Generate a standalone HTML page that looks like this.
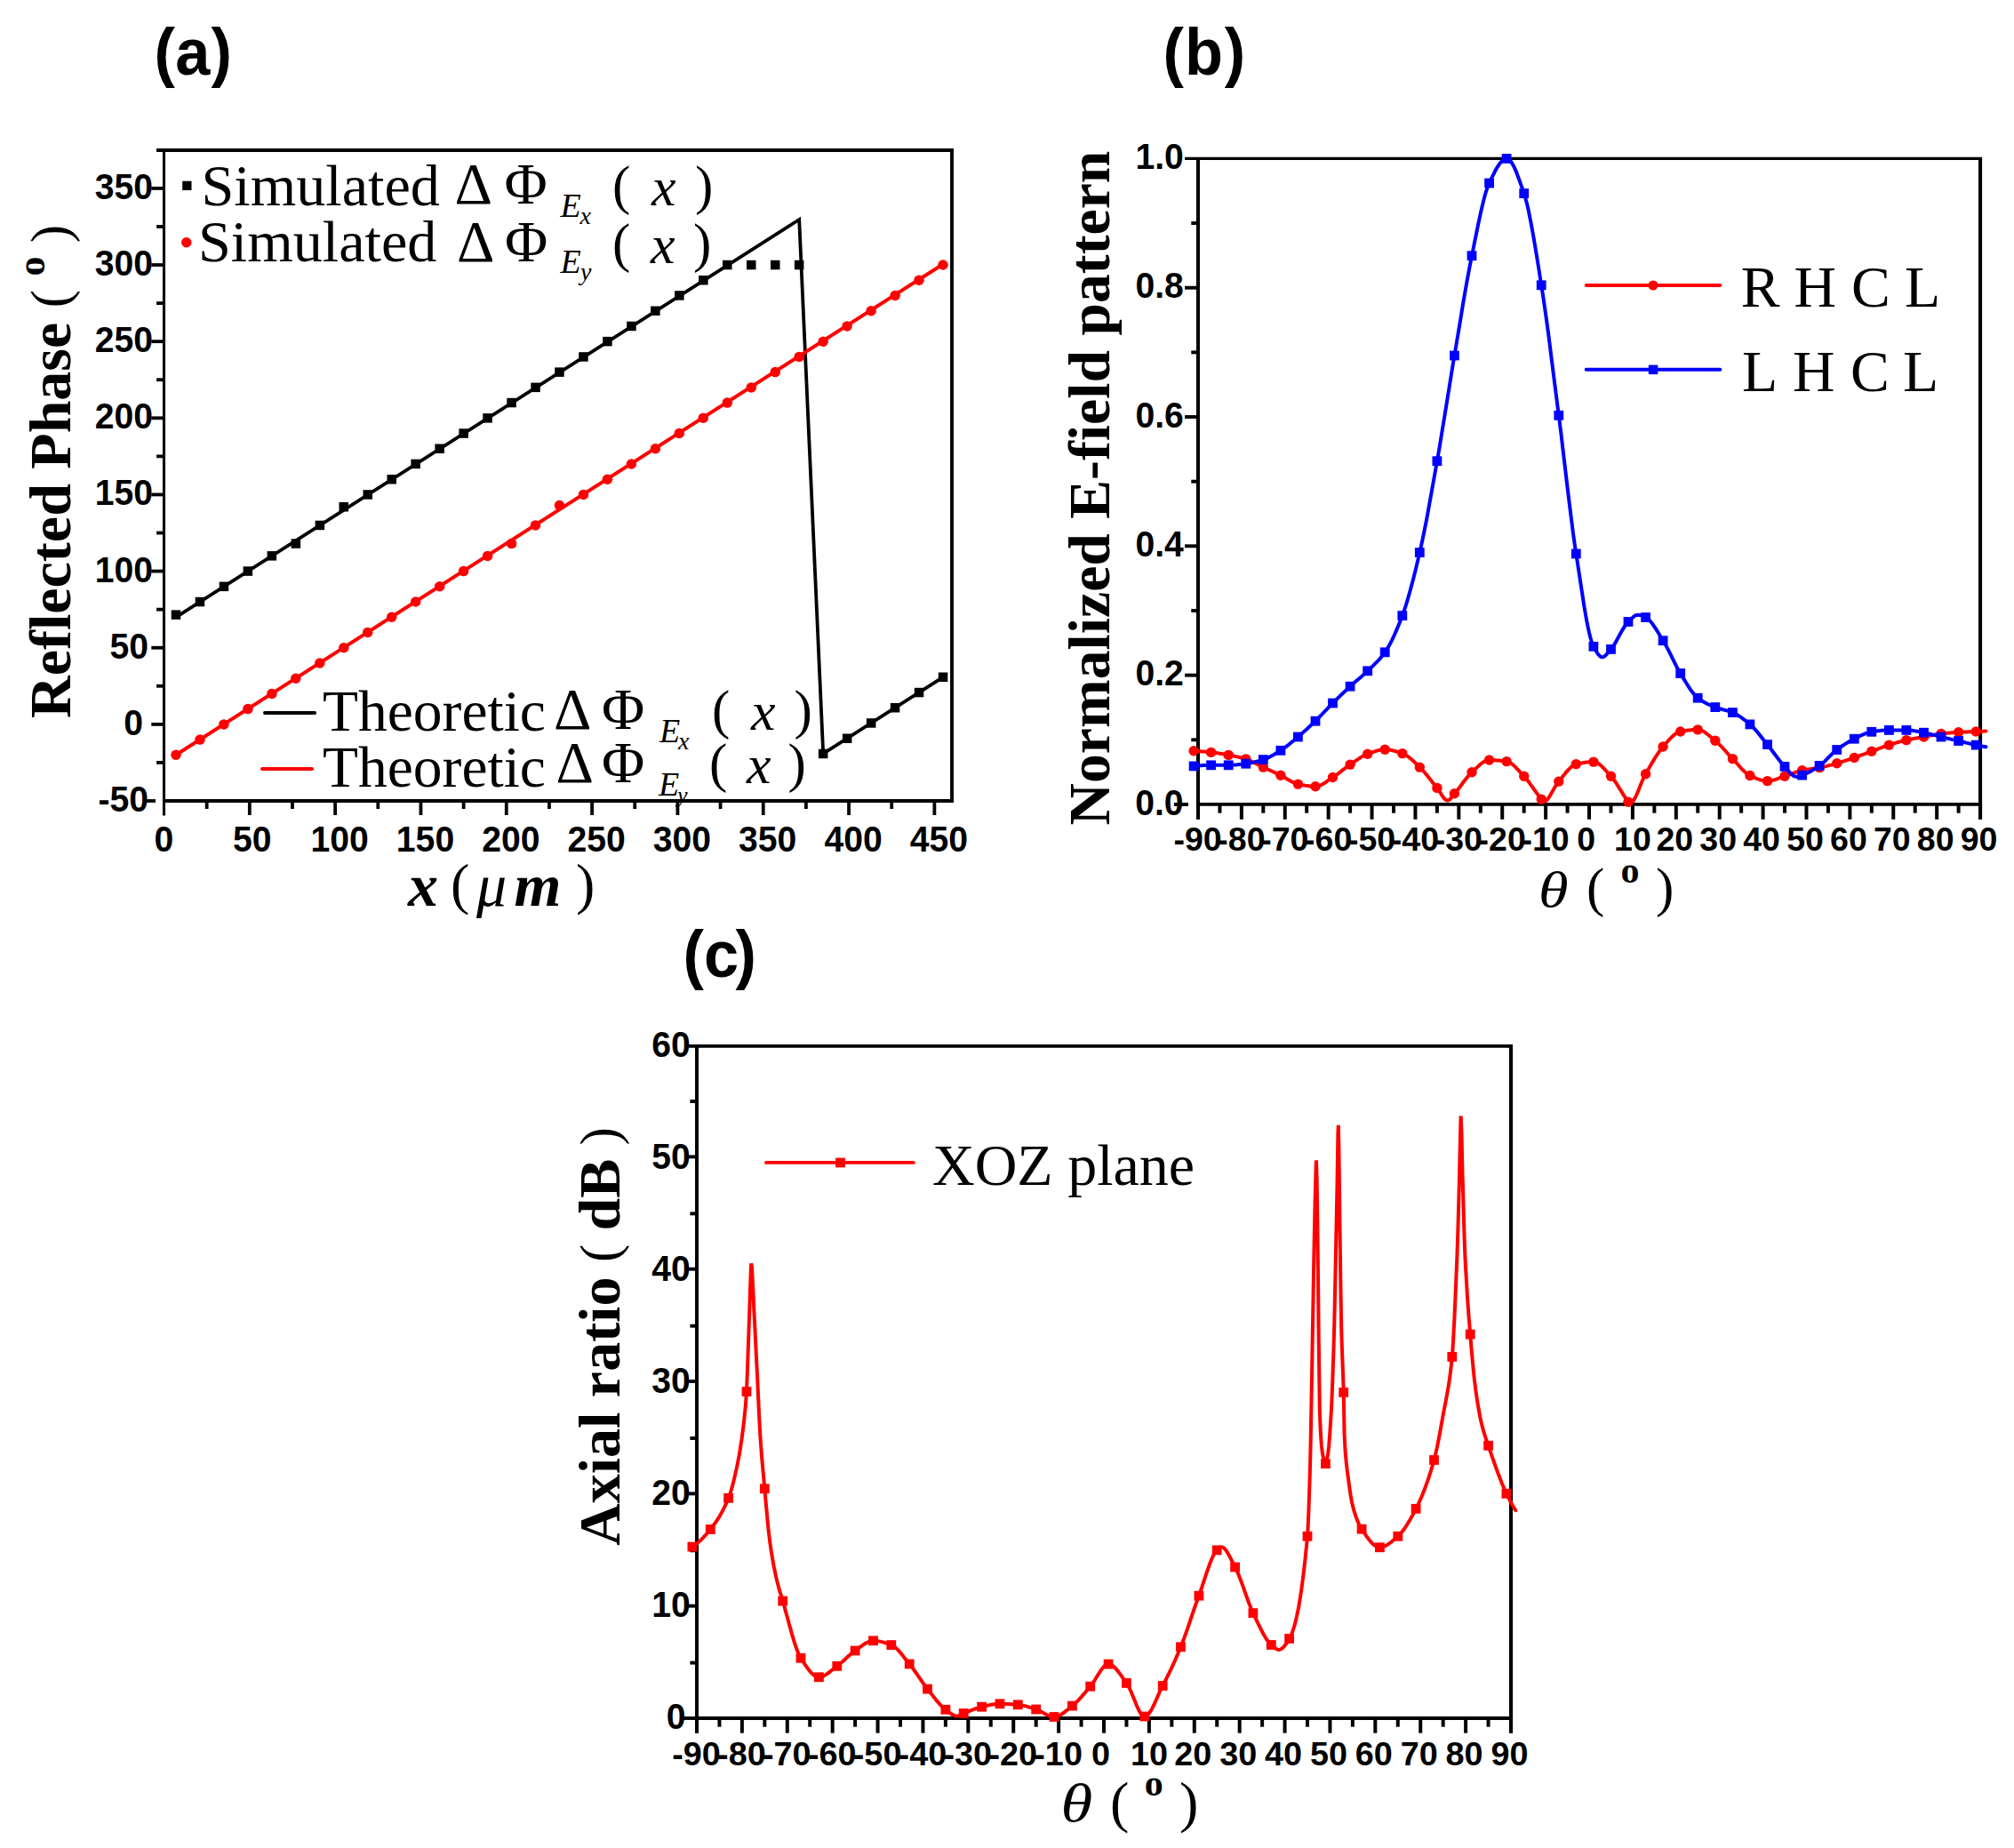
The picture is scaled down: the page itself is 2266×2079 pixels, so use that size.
<!DOCTYPE html>
<html><head><meta charset="utf-8"><title>Figure</title>
<style>html,body{margin:0;padding:0;background:#fff}svg{display:block}</style></head>
<body><svg width="2266" height="2079" viewBox="0 0 2266 2079">
<rect width="2266" height="2079" fill="#fff"/>
<polyline points="198.0,694.3 899.2,247.0 926.2,847.9 1061.0,761.8" fill="none" stroke="#000" stroke-width="3.8" stroke-linejoin="miter" stroke-linecap="round"/>
<polyline points="198.0,849.3 1061.0,297.2" fill="none" stroke="#f00" stroke-width="4" stroke-linejoin="round" stroke-linecap="round"/>
<rect x="192.7" y="686.4" width="10.5" height="10.5" fill="#000"/>
<rect x="219.7" y="671.8" width="10.5" height="10.5" fill="#000"/>
<rect x="246.7" y="654.6" width="10.5" height="10.5" fill="#000"/>
<rect x="273.6" y="637.3" width="10.5" height="10.5" fill="#000"/>
<rect x="300.6" y="620.1" width="10.5" height="10.5" fill="#000"/>
<rect x="327.6" y="606.3" width="10.5" height="10.5" fill="#000"/>
<rect x="354.6" y="585.7" width="10.5" height="10.5" fill="#000"/>
<rect x="381.5" y="565.0" width="10.5" height="10.5" fill="#000"/>
<rect x="408.5" y="551.2" width="10.5" height="10.5" fill="#000"/>
<rect x="435.5" y="534.0" width="10.5" height="10.5" fill="#000"/>
<rect x="462.4" y="516.7" width="10.5" height="10.5" fill="#000"/>
<rect x="489.4" y="499.5" width="10.5" height="10.5" fill="#000"/>
<rect x="516.4" y="482.3" width="10.5" height="10.5" fill="#000"/>
<rect x="543.3" y="465.1" width="10.5" height="10.5" fill="#000"/>
<rect x="570.3" y="447.8" width="10.5" height="10.5" fill="#000"/>
<rect x="597.3" y="430.6" width="10.5" height="10.5" fill="#000"/>
<rect x="624.2" y="413.4" width="10.5" height="10.5" fill="#000"/>
<rect x="651.2" y="396.2" width="10.5" height="10.5" fill="#000"/>
<rect x="678.2" y="378.9" width="10.5" height="10.5" fill="#000"/>
<rect x="705.2" y="361.7" width="10.5" height="10.5" fill="#000"/>
<rect x="732.1" y="344.5" width="10.5" height="10.5" fill="#000"/>
<rect x="759.1" y="327.2" width="10.5" height="10.5" fill="#000"/>
<rect x="786.1" y="310.0" width="10.5" height="10.5" fill="#000"/>
<rect x="813.0" y="292.8" width="10.5" height="10.5" fill="#000"/>
<rect x="840.0" y="292.8" width="10.5" height="10.5" fill="#000"/>
<rect x="867.0" y="292.8" width="10.5" height="10.5" fill="#000"/>
<rect x="893.9" y="292.8" width="10.5" height="10.5" fill="#000"/>
<rect x="920.9" y="842.7" width="10.5" height="10.5" fill="#000"/>
<rect x="947.9" y="825.5" width="10.5" height="10.5" fill="#000"/>
<rect x="974.9" y="808.2" width="10.5" height="10.5" fill="#000"/>
<rect x="1001.8" y="791.0" width="10.5" height="10.5" fill="#000"/>
<rect x="1028.8" y="773.8" width="10.5" height="10.5" fill="#000"/>
<rect x="1055.8" y="756.5" width="10.5" height="10.5" fill="#000"/>
<circle cx="198.0" cy="849.3" r="5.75" fill="#f00"/>
<circle cx="225.0" cy="832.1" r="5.75" fill="#f00"/>
<circle cx="251.9" cy="814.9" r="5.75" fill="#f00"/>
<circle cx="278.9" cy="797.6" r="5.75" fill="#f00"/>
<circle cx="305.9" cy="780.4" r="5.75" fill="#f00"/>
<circle cx="332.8" cy="763.2" r="5.75" fill="#f00"/>
<circle cx="359.8" cy="746.0" r="5.75" fill="#f00"/>
<circle cx="386.8" cy="728.7" r="5.75" fill="#f00"/>
<circle cx="413.7" cy="711.5" r="5.75" fill="#f00"/>
<circle cx="440.7" cy="694.3" r="5.75" fill="#f00"/>
<circle cx="467.7" cy="677.0" r="5.75" fill="#f00"/>
<circle cx="494.7" cy="659.8" r="5.75" fill="#f00"/>
<circle cx="521.6" cy="642.6" r="5.75" fill="#f00"/>
<circle cx="548.6" cy="625.4" r="5.75" fill="#f00"/>
<circle cx="575.6" cy="611.6" r="5.75" fill="#f00"/>
<circle cx="602.5" cy="590.9" r="5.75" fill="#f00"/>
<circle cx="629.5" cy="568.5" r="5.75" fill="#f00"/>
<circle cx="656.5" cy="556.4" r="5.75" fill="#f00"/>
<circle cx="683.4" cy="539.2" r="5.75" fill="#f00"/>
<circle cx="710.4" cy="522.0" r="5.75" fill="#f00"/>
<circle cx="737.4" cy="504.8" r="5.75" fill="#f00"/>
<circle cx="764.3" cy="487.5" r="5.75" fill="#f00"/>
<circle cx="791.3" cy="470.3" r="5.75" fill="#f00"/>
<circle cx="818.3" cy="453.1" r="5.75" fill="#f00"/>
<circle cx="845.3" cy="435.9" r="5.75" fill="#f00"/>
<circle cx="872.2" cy="418.6" r="5.75" fill="#f00"/>
<circle cx="899.2" cy="401.4" r="5.75" fill="#f00"/>
<circle cx="926.2" cy="384.2" r="5.75" fill="#f00"/>
<circle cx="953.1" cy="366.9" r="5.75" fill="#f00"/>
<circle cx="980.1" cy="349.7" r="5.75" fill="#f00"/>
<circle cx="1007.1" cy="332.5" r="5.75" fill="#f00"/>
<circle cx="1034.0" cy="315.3" r="5.75" fill="#f00"/>
<circle cx="1061.0" cy="298.0" r="5.75" fill="#f00"/>
<line x1="183.00" y1="901.00" x2="1073.00" y2="901.00" stroke="#000" stroke-width="4.1" stroke-linecap="butt"/>
<line x1="184.50" y1="168.90" x2="184.50" y2="917.50" stroke="#000" stroke-width="3.1" stroke-linecap="butt"/>
<line x1="176.00" y1="168.90" x2="1073.00" y2="168.90" stroke="#000" stroke-width="4" stroke-linecap="butt"/>
<line x1="1071.00" y1="168.90" x2="1071.00" y2="901.00" stroke="#000" stroke-width="3.9" stroke-linecap="butt"/>
<text transform="translate(184.5,958.0) scale(0.955,1)" font-size="41" font-family="Liberation Sans, Arial, sans-serif" font-weight="bold" text-anchor="middle">0</text>
<line x1="280.82" y1="901.00" x2="280.82" y2="917.00" stroke="#000" stroke-width="3.8" stroke-linecap="butt"/>
<text transform="translate(283.8,958.0) scale(0.955,1)" font-size="41" font-family="Liberation Sans, Arial, sans-serif" font-weight="bold" text-anchor="middle">50</text>
<line x1="377.14" y1="901.00" x2="377.14" y2="917.00" stroke="#000" stroke-width="3.8" stroke-linecap="butt"/>
<text transform="translate(382.1,958.0) scale(0.955,1)" font-size="41" font-family="Liberation Sans, Arial, sans-serif" font-weight="bold" text-anchor="middle">100</text>
<line x1="473.46" y1="901.00" x2="473.46" y2="917.00" stroke="#000" stroke-width="3.8" stroke-linecap="butt"/>
<text transform="translate(478.5,958.0) scale(0.955,1)" font-size="41" font-family="Liberation Sans, Arial, sans-serif" font-weight="bold" text-anchor="middle">150</text>
<line x1="569.78" y1="901.00" x2="569.78" y2="917.00" stroke="#000" stroke-width="3.8" stroke-linecap="butt"/>
<text transform="translate(574.8,958.0) scale(0.955,1)" font-size="41" font-family="Liberation Sans, Arial, sans-serif" font-weight="bold" text-anchor="middle">200</text>
<line x1="666.10" y1="901.00" x2="666.10" y2="917.00" stroke="#000" stroke-width="3.8" stroke-linecap="butt"/>
<text transform="translate(671.1,958.0) scale(0.955,1)" font-size="41" font-family="Liberation Sans, Arial, sans-serif" font-weight="bold" text-anchor="middle">250</text>
<line x1="762.42" y1="901.00" x2="762.42" y2="917.00" stroke="#000" stroke-width="3.8" stroke-linecap="butt"/>
<text transform="translate(767.4,958.0) scale(0.955,1)" font-size="41" font-family="Liberation Sans, Arial, sans-serif" font-weight="bold" text-anchor="middle">300</text>
<line x1="858.74" y1="901.00" x2="858.74" y2="917.00" stroke="#000" stroke-width="3.8" stroke-linecap="butt"/>
<text transform="translate(863.7,958.0) scale(0.955,1)" font-size="41" font-family="Liberation Sans, Arial, sans-serif" font-weight="bold" text-anchor="middle">350</text>
<line x1="955.06" y1="901.00" x2="955.06" y2="917.00" stroke="#000" stroke-width="3.8" stroke-linecap="butt"/>
<text transform="translate(960.1,958.0) scale(0.955,1)" font-size="41" font-family="Liberation Sans, Arial, sans-serif" font-weight="bold" text-anchor="middle">400</text>
<line x1="1051.38" y1="901.00" x2="1051.38" y2="917.00" stroke="#000" stroke-width="3.8" stroke-linecap="butt"/>
<text transform="translate(1056.4,958.0) scale(0.955,1)" font-size="41" font-family="Liberation Sans, Arial, sans-serif" font-weight="bold" text-anchor="middle">450</text>
<line x1="232.66" y1="901.00" x2="232.66" y2="910.00" stroke="#000" stroke-width="3.8" stroke-linecap="butt"/>
<line x1="328.98" y1="901.00" x2="328.98" y2="910.00" stroke="#000" stroke-width="3.8" stroke-linecap="butt"/>
<line x1="425.30" y1="901.00" x2="425.30" y2="910.00" stroke="#000" stroke-width="3.8" stroke-linecap="butt"/>
<line x1="521.62" y1="901.00" x2="521.62" y2="910.00" stroke="#000" stroke-width="3.8" stroke-linecap="butt"/>
<line x1="617.94" y1="901.00" x2="617.94" y2="910.00" stroke="#000" stroke-width="3.8" stroke-linecap="butt"/>
<line x1="714.26" y1="901.00" x2="714.26" y2="910.00" stroke="#000" stroke-width="3.8" stroke-linecap="butt"/>
<line x1="810.58" y1="901.00" x2="810.58" y2="910.00" stroke="#000" stroke-width="3.8" stroke-linecap="butt"/>
<line x1="906.90" y1="901.00" x2="906.90" y2="910.00" stroke="#000" stroke-width="3.8" stroke-linecap="butt"/>
<line x1="1003.22" y1="901.00" x2="1003.22" y2="910.00" stroke="#000" stroke-width="3.8" stroke-linecap="butt"/>
<line x1="165.00" y1="901.00" x2="175.00" y2="901.00" stroke="#000" stroke-width="3.8" stroke-linecap="butt"/>
<text transform="translate(167.1,913.0) scale(0.955,1)" font-size="41" font-family="Liberation Sans, Arial, sans-serif" font-weight="bold" text-anchor="end">-50</text>
<line x1="170.30" y1="814.86" x2="184.50" y2="814.86" stroke="#000" stroke-width="3.8" stroke-linecap="butt"/>
<text transform="translate(161.1,826.9) scale(0.955,1)" font-size="41" font-family="Liberation Sans, Arial, sans-serif" font-weight="bold" text-anchor="end">0</text>
<line x1="170.30" y1="728.72" x2="184.50" y2="728.72" stroke="#000" stroke-width="3.8" stroke-linecap="butt"/>
<text transform="translate(167.1,740.7) scale(0.955,1)" font-size="41" font-family="Liberation Sans, Arial, sans-serif" font-weight="bold" text-anchor="end">50</text>
<line x1="170.30" y1="642.59" x2="184.50" y2="642.59" stroke="#000" stroke-width="3.8" stroke-linecap="butt"/>
<text transform="translate(172.1,654.6) scale(0.955,1)" font-size="41" font-family="Liberation Sans, Arial, sans-serif" font-weight="bold" text-anchor="end">100</text>
<line x1="170.30" y1="556.45" x2="184.50" y2="556.45" stroke="#000" stroke-width="3.8" stroke-linecap="butt"/>
<text transform="translate(172.1,568.4) scale(0.955,1)" font-size="41" font-family="Liberation Sans, Arial, sans-serif" font-weight="bold" text-anchor="end">150</text>
<line x1="170.30" y1="470.31" x2="184.50" y2="470.31" stroke="#000" stroke-width="3.8" stroke-linecap="butt"/>
<text transform="translate(172.1,482.3) scale(0.955,1)" font-size="41" font-family="Liberation Sans, Arial, sans-serif" font-weight="bold" text-anchor="end">200</text>
<line x1="170.30" y1="384.17" x2="184.50" y2="384.17" stroke="#000" stroke-width="3.8" stroke-linecap="butt"/>
<text transform="translate(172.1,396.2) scale(0.955,1)" font-size="41" font-family="Liberation Sans, Arial, sans-serif" font-weight="bold" text-anchor="end">250</text>
<line x1="170.30" y1="298.03" x2="184.50" y2="298.03" stroke="#000" stroke-width="3.8" stroke-linecap="butt"/>
<text transform="translate(172.1,310.0) scale(0.955,1)" font-size="41" font-family="Liberation Sans, Arial, sans-serif" font-weight="bold" text-anchor="end">300</text>
<line x1="170.30" y1="211.90" x2="184.50" y2="211.90" stroke="#000" stroke-width="3.8" stroke-linecap="butt"/>
<text transform="translate(172.1,223.9) scale(0.955,1)" font-size="41" font-family="Liberation Sans, Arial, sans-serif" font-weight="bold" text-anchor="end">350</text>
<line x1="176.10" y1="857.93" x2="184.50" y2="857.93" stroke="#000" stroke-width="3.8" stroke-linecap="butt"/>
<line x1="176.10" y1="771.79" x2="184.50" y2="771.79" stroke="#000" stroke-width="3.8" stroke-linecap="butt"/>
<line x1="176.10" y1="685.65" x2="184.50" y2="685.65" stroke="#000" stroke-width="3.8" stroke-linecap="butt"/>
<line x1="176.10" y1="599.52" x2="184.50" y2="599.52" stroke="#000" stroke-width="3.8" stroke-linecap="butt"/>
<line x1="176.10" y1="513.38" x2="184.50" y2="513.38" stroke="#000" stroke-width="3.8" stroke-linecap="butt"/>
<line x1="176.10" y1="427.24" x2="184.50" y2="427.24" stroke="#000" stroke-width="3.8" stroke-linecap="butt"/>
<line x1="176.10" y1="341.10" x2="184.50" y2="341.10" stroke="#000" stroke-width="3.8" stroke-linecap="butt"/>
<line x1="176.10" y1="254.97" x2="184.50" y2="254.97" stroke="#000" stroke-width="3.8" stroke-linecap="butt"/>
<text transform="translate(79,808) rotate(-90)" font-size="66" font-family="Liberation Serif, Times New Roman, serif" font-weight="bold" xml:space="preserve">Reflected Phase <tspan font-weight="normal" font-size="61" dy="-2">( </tspan><tspan font-size="44" dy="-27">o</tspan><tspan dy="27" font-weight="normal" font-size="61"> )</tspan></text>
<text x="459" y="1018.5" font-size="68" font-family="Liberation Serif, Times New Roman, serif" font-weight="bold" font-style="italic">x</text>
<text x="507" y="1016" font-size="64" font-family="Liberation Serif, Times New Roman, serif">(</text>
<text x="536" y="1018.5" font-size="68" font-family="Liberation Serif, Times New Roman, serif" font-style="italic">μ</text>
<text x="578.5" y="1018.5" font-size="68" font-family="Liberation Serif, Times New Roman, serif" font-weight="bold" font-style="italic">m</text>
<text x="648" y="1016" font-size="64" font-family="Liberation Serif, Times New Roman, serif">)</text>
<text transform="translate(173.6,83.7) scale(0.94,1)" font-size="74.8" font-family="Liberation Sans, Arial, sans-serif" font-weight="bold">(</text>
<text transform="translate(197.3,83.7) scale(0.94,1)" font-size="74.8" font-family="Liberation Sans, Arial, sans-serif" font-weight="bold">a</text>
<text transform="translate(237.5,83.7) scale(0.94,1)" font-size="74.8" font-family="Liberation Sans, Arial, sans-serif" font-weight="bold">)</text>
<rect x="205.2" y="203.7" width="10.3" height="10.3" fill="#000"/>
<text x="226.5" y="230.6" font-size="66.2" font-family="Liberation Serif, Times New Roman, serif">Simulated</text>
<text x="511.5" y="229.1" font-size="66" font-family="Liberation Serif, Times New Roman, serif">Δ</text>
<text x="567.5" y="229.1" font-size="66" font-family="Liberation Serif, Times New Roman, serif">Φ</text>
<text x="630.5" y="244.0" font-size="38" font-family="Liberation Serif, Times New Roman, serif" font-style="italic">E</text>
<text x="652.5" y="252.0" font-size="28" font-family="Liberation Serif, Times New Roman, serif" font-style="italic">x</text>
<text x="689" y="228.6" font-size="61" font-family="Liberation Serif, Times New Roman, serif">(</text>
<text x="733" y="230.6" font-size="62" font-family="Liberation Serif, Times New Roman, serif" font-style="italic">x</text>
<text x="782" y="228.6" font-size="61" font-family="Liberation Serif, Times New Roman, serif">)</text>
<circle cx="209.8" cy="272.8" r="5.75" fill="#f00"/>
<text x="223" y="293.6" font-size="66.2" font-family="Liberation Serif, Times New Roman, serif">Simulated</text>
<text x="514" y="293.6" font-size="66" font-family="Liberation Serif, Times New Roman, serif">Δ</text>
<text x="568" y="293.6" font-size="66" font-family="Liberation Serif, Times New Roman, serif">Φ</text>
<text x="630.5" y="307.0" font-size="38" font-family="Liberation Serif, Times New Roman, serif" font-style="italic">E</text>
<text x="653" y="315.0" font-size="28" font-family="Liberation Serif, Times New Roman, serif" font-style="italic">y</text>
<text x="689" y="293.6" font-size="61" font-family="Liberation Serif, Times New Roman, serif">(</text>
<text x="732" y="295.6" font-size="62" font-family="Liberation Serif, Times New Roman, serif" font-style="italic">x</text>
<text x="780" y="293.6" font-size="61" font-family="Liberation Serif, Times New Roman, serif">)</text>
<line x1="298.00" y1="802.00" x2="354.00" y2="802.00" stroke="#000" stroke-width="4" stroke-linecap="round"/>
<text x="363" y="821.9" font-size="65.5" font-family="Liberation Serif, Times New Roman, serif">Theoretic</text>
<text x="623" y="819.6" font-size="66" font-family="Liberation Serif, Times New Roman, serif">Δ</text>
<text x="677" y="819.6" font-size="66" font-family="Liberation Serif, Times New Roman, serif">Φ</text>
<text x="742" y="835.3" font-size="38" font-family="Liberation Serif, Times New Roman, serif" font-style="italic">E</text>
<text x="763" y="843.3" font-size="28" font-family="Liberation Serif, Times New Roman, serif" font-style="italic">x</text>
<text x="801" y="819.4" font-size="61" font-family="Liberation Serif, Times New Roman, serif">(</text>
<text x="845" y="821.4" font-size="62" font-family="Liberation Serif, Times New Roman, serif" font-style="italic">x</text>
<text x="893.5" y="819.4" font-size="61" font-family="Liberation Serif, Times New Roman, serif">)</text>
<line x1="295.00" y1="864.90" x2="351.00" y2="864.90" stroke="#f00" stroke-width="4" stroke-linecap="round"/>
<text x="363" y="884.8" font-size="65.5" font-family="Liberation Serif, Times New Roman, serif">Theoretic</text>
<text x="625.5" y="879.5999999999999" font-size="66" font-family="Liberation Serif, Times New Roman, serif">Δ</text>
<text x="677" y="879.5999999999999" font-size="66" font-family="Liberation Serif, Times New Roman, serif">Φ</text>
<text x="741" y="894.6999999999999" font-size="38" font-family="Liberation Serif, Times New Roman, serif" font-style="italic">E</text>
<text x="762" y="902.6999999999999" font-size="26" font-family="Liberation Serif, Times New Roman, serif" font-style="italic">y</text>
<text x="798" y="878.5" font-size="61" font-family="Liberation Serif, Times New Roman, serif">(</text>
<text x="840" y="880.5" font-size="62" font-family="Liberation Serif, Times New Roman, serif" font-style="italic">x</text>
<text x="886.5" y="878.5" font-size="61" font-family="Liberation Serif, Times New Roman, serif">)</text>
<line x1="1345.97" y1="904.95" x2="2230.05" y2="904.95" stroke="#000" stroke-width="3.8" stroke-linecap="butt"/>
<line x1="1347.97" y1="177.00" x2="1347.97" y2="921.75" stroke="#000" stroke-width="4" stroke-linecap="butt"/>
<line x1="1333.07" y1="178.40" x2="2230.05" y2="178.40" stroke="#000" stroke-width="3.1" stroke-linecap="butt"/>
<line x1="2228.05" y1="177.00" x2="2228.05" y2="921.75" stroke="#000" stroke-width="4.05" stroke-linecap="butt"/>
<line x1="1347.97" y1="904.95" x2="1347.97" y2="921.80" stroke="#000" stroke-width="4" stroke-linecap="butt"/>
<text transform="translate(1347.5,956.9) scale(1,1)" font-size="37.5" font-family="Liberation Sans, Arial, sans-serif" font-weight="bold" text-anchor="middle">-90</text>
<line x1="1396.86" y1="904.95" x2="1396.86" y2="921.80" stroke="#000" stroke-width="4" stroke-linecap="butt"/>
<text transform="translate(1396.4,956.9) scale(1,1)" font-size="37.5" font-family="Liberation Sans, Arial, sans-serif" font-weight="bold" text-anchor="middle">-80</text>
<line x1="1445.76" y1="904.95" x2="1445.76" y2="921.80" stroke="#000" stroke-width="4" stroke-linecap="butt"/>
<text transform="translate(1445.3,956.9) scale(1,1)" font-size="37.5" font-family="Liberation Sans, Arial, sans-serif" font-weight="bold" text-anchor="middle">-70</text>
<line x1="1494.65" y1="904.95" x2="1494.65" y2="921.80" stroke="#000" stroke-width="4" stroke-linecap="butt"/>
<text transform="translate(1494.2,956.9) scale(1,1)" font-size="37.5" font-family="Liberation Sans, Arial, sans-serif" font-weight="bold" text-anchor="middle">-60</text>
<line x1="1543.54" y1="904.95" x2="1543.54" y2="921.80" stroke="#000" stroke-width="4" stroke-linecap="butt"/>
<text transform="translate(1543.0,956.9) scale(1,1)" font-size="37.5" font-family="Liberation Sans, Arial, sans-serif" font-weight="bold" text-anchor="middle">-50</text>
<line x1="1592.44" y1="904.95" x2="1592.44" y2="921.80" stroke="#000" stroke-width="4" stroke-linecap="butt"/>
<text transform="translate(1591.9,956.9) scale(1,1)" font-size="37.5" font-family="Liberation Sans, Arial, sans-serif" font-weight="bold" text-anchor="middle">-40</text>
<line x1="1641.33" y1="904.95" x2="1641.33" y2="921.80" stroke="#000" stroke-width="4" stroke-linecap="butt"/>
<text transform="translate(1640.8,956.9) scale(1,1)" font-size="37.5" font-family="Liberation Sans, Arial, sans-serif" font-weight="bold" text-anchor="middle">-30</text>
<line x1="1690.22" y1="904.95" x2="1690.22" y2="921.80" stroke="#000" stroke-width="4" stroke-linecap="butt"/>
<text transform="translate(1689.7,956.9) scale(1,1)" font-size="37.5" font-family="Liberation Sans, Arial, sans-serif" font-weight="bold" text-anchor="middle">-20</text>
<line x1="1739.12" y1="904.95" x2="1739.12" y2="921.80" stroke="#000" stroke-width="4" stroke-linecap="butt"/>
<text transform="translate(1738.6,956.9) scale(1,1)" font-size="37.5" font-family="Liberation Sans, Arial, sans-serif" font-weight="bold" text-anchor="middle">-10</text>
<line x1="1788.01" y1="904.95" x2="1788.01" y2="921.80" stroke="#000" stroke-width="4" stroke-linecap="butt"/>
<text transform="translate(1784.6,956.9) scale(1,1)" font-size="37.5" font-family="Liberation Sans, Arial, sans-serif" font-weight="bold" text-anchor="middle">0</text>
<line x1="1836.90" y1="904.95" x2="1836.90" y2="921.80" stroke="#000" stroke-width="4" stroke-linecap="butt"/>
<text transform="translate(1836.9,956.9) scale(1,1)" font-size="37.5" font-family="Liberation Sans, Arial, sans-serif" font-weight="bold" text-anchor="middle">10</text>
<line x1="1885.80" y1="904.95" x2="1885.80" y2="921.80" stroke="#000" stroke-width="4" stroke-linecap="butt"/>
<text transform="translate(1884.3,956.9) scale(1,1)" font-size="37.5" font-family="Liberation Sans, Arial, sans-serif" font-weight="bold" text-anchor="middle">20</text>
<line x1="1934.69" y1="904.95" x2="1934.69" y2="921.80" stroke="#000" stroke-width="4" stroke-linecap="butt"/>
<text transform="translate(1933.2,956.9) scale(1,1)" font-size="37.5" font-family="Liberation Sans, Arial, sans-serif" font-weight="bold" text-anchor="middle">30</text>
<line x1="1983.58" y1="904.95" x2="1983.58" y2="921.80" stroke="#000" stroke-width="4" stroke-linecap="butt"/>
<text transform="translate(1982.1,956.9) scale(1,1)" font-size="37.5" font-family="Liberation Sans, Arial, sans-serif" font-weight="bold" text-anchor="middle">40</text>
<line x1="2032.48" y1="904.95" x2="2032.48" y2="921.80" stroke="#000" stroke-width="4" stroke-linecap="butt"/>
<text transform="translate(2031.0,956.9) scale(1,1)" font-size="37.5" font-family="Liberation Sans, Arial, sans-serif" font-weight="bold" text-anchor="middle">50</text>
<line x1="2081.37" y1="904.95" x2="2081.37" y2="921.80" stroke="#000" stroke-width="4" stroke-linecap="butt"/>
<text transform="translate(2079.9,956.9) scale(1,1)" font-size="37.5" font-family="Liberation Sans, Arial, sans-serif" font-weight="bold" text-anchor="middle">60</text>
<line x1="2130.26" y1="904.95" x2="2130.26" y2="921.80" stroke="#000" stroke-width="4" stroke-linecap="butt"/>
<text transform="translate(2128.8,956.9) scale(1,1)" font-size="37.5" font-family="Liberation Sans, Arial, sans-serif" font-weight="bold" text-anchor="middle">70</text>
<line x1="2179.16" y1="904.95" x2="2179.16" y2="921.80" stroke="#000" stroke-width="4" stroke-linecap="butt"/>
<text transform="translate(2177.7,956.9) scale(1,1)" font-size="37.5" font-family="Liberation Sans, Arial, sans-serif" font-weight="bold" text-anchor="middle">80</text>
<line x1="2228.05" y1="904.95" x2="2228.05" y2="921.80" stroke="#000" stroke-width="4" stroke-linecap="butt"/>
<text transform="translate(2226.6,956.9) scale(1,1)" font-size="37.5" font-family="Liberation Sans, Arial, sans-serif" font-weight="bold" text-anchor="middle">90</text>
<line x1="1372.42" y1="904.95" x2="1372.42" y2="914.70" stroke="#000" stroke-width="4" stroke-linecap="butt"/>
<line x1="1421.31" y1="904.95" x2="1421.31" y2="914.70" stroke="#000" stroke-width="4" stroke-linecap="butt"/>
<line x1="1470.20" y1="904.95" x2="1470.20" y2="914.70" stroke="#000" stroke-width="4" stroke-linecap="butt"/>
<line x1="1519.10" y1="904.95" x2="1519.10" y2="914.70" stroke="#000" stroke-width="4" stroke-linecap="butt"/>
<line x1="1567.99" y1="904.95" x2="1567.99" y2="914.70" stroke="#000" stroke-width="4" stroke-linecap="butt"/>
<line x1="1616.88" y1="904.95" x2="1616.88" y2="914.70" stroke="#000" stroke-width="4" stroke-linecap="butt"/>
<line x1="1665.78" y1="904.95" x2="1665.78" y2="914.70" stroke="#000" stroke-width="4" stroke-linecap="butt"/>
<line x1="1714.67" y1="904.95" x2="1714.67" y2="914.70" stroke="#000" stroke-width="4" stroke-linecap="butt"/>
<line x1="1763.56" y1="904.95" x2="1763.56" y2="914.70" stroke="#000" stroke-width="4" stroke-linecap="butt"/>
<line x1="1812.46" y1="904.95" x2="1812.46" y2="914.70" stroke="#000" stroke-width="4" stroke-linecap="butt"/>
<line x1="1861.35" y1="904.95" x2="1861.35" y2="914.70" stroke="#000" stroke-width="4" stroke-linecap="butt"/>
<line x1="1910.24" y1="904.95" x2="1910.24" y2="914.70" stroke="#000" stroke-width="4" stroke-linecap="butt"/>
<line x1="1959.14" y1="904.95" x2="1959.14" y2="914.70" stroke="#000" stroke-width="4" stroke-linecap="butt"/>
<line x1="2008.03" y1="904.95" x2="2008.03" y2="914.70" stroke="#000" stroke-width="4" stroke-linecap="butt"/>
<line x1="2056.92" y1="904.95" x2="2056.92" y2="914.70" stroke="#000" stroke-width="4" stroke-linecap="butt"/>
<line x1="2105.82" y1="904.95" x2="2105.82" y2="914.70" stroke="#000" stroke-width="4" stroke-linecap="butt"/>
<line x1="2154.71" y1="904.95" x2="2154.71" y2="914.70" stroke="#000" stroke-width="4" stroke-linecap="butt"/>
<line x1="2203.60" y1="904.95" x2="2203.60" y2="914.70" stroke="#000" stroke-width="4" stroke-linecap="butt"/>
<line x1="1320.90" y1="904.95" x2="1337.00" y2="904.95" stroke="#000" stroke-width="3.9" stroke-linecap="butt"/>
<text transform="translate(1331.6,917.2) scale(0.955,1)" font-size="41" font-family="Liberation Sans, Arial, sans-serif" font-weight="bold" text-anchor="end">0.0</text>
<line x1="1333.07" y1="759.64" x2="1347.97" y2="759.64" stroke="#000" stroke-width="3.9" stroke-linecap="butt"/>
<text transform="translate(1331.8,771.2) scale(0.955,1)" font-size="41" font-family="Liberation Sans, Arial, sans-serif" font-weight="bold" text-anchor="end">0.2</text>
<line x1="1333.07" y1="614.33" x2="1347.97" y2="614.33" stroke="#000" stroke-width="3.9" stroke-linecap="butt"/>
<text transform="translate(1331.8,625.9) scale(0.955,1)" font-size="41" font-family="Liberation Sans, Arial, sans-serif" font-weight="bold" text-anchor="end">0.4</text>
<line x1="1333.07" y1="469.02" x2="1347.97" y2="469.02" stroke="#000" stroke-width="3.9" stroke-linecap="butt"/>
<text transform="translate(1331.8,480.6) scale(0.955,1)" font-size="41" font-family="Liberation Sans, Arial, sans-serif" font-weight="bold" text-anchor="end">0.6</text>
<line x1="1333.07" y1="323.71" x2="1347.97" y2="323.71" stroke="#000" stroke-width="3.9" stroke-linecap="butt"/>
<text transform="translate(1331.8,335.3) scale(0.955,1)" font-size="41" font-family="Liberation Sans, Arial, sans-serif" font-weight="bold" text-anchor="end">0.8</text>
<text transform="translate(1331.8,190.0) scale(0.955,1)" font-size="41" font-family="Liberation Sans, Arial, sans-serif" font-weight="bold" text-anchor="end">1.0</text>
<line x1="1340.27" y1="832.30" x2="1347.97" y2="832.30" stroke="#000" stroke-width="3.9" stroke-linecap="butt"/>
<line x1="1340.27" y1="686.99" x2="1347.97" y2="686.99" stroke="#000" stroke-width="3.9" stroke-linecap="butt"/>
<line x1="1340.27" y1="541.67" x2="1347.97" y2="541.67" stroke="#000" stroke-width="3.9" stroke-linecap="butt"/>
<line x1="1340.27" y1="396.37" x2="1347.97" y2="396.37" stroke="#000" stroke-width="3.9" stroke-linecap="butt"/>
<line x1="1340.27" y1="251.05" x2="1347.97" y2="251.05" stroke="#000" stroke-width="3.9" stroke-linecap="butt"/>
<text transform="translate(1247.7,928.5) rotate(-90)" font-size="65.7" font-family="Liberation Serif, Times New Roman, serif" font-weight="bold">Normalized E-field pattern</text>
<text transform="translate(1730.9,1020) scale(1.18,1)" font-size="58" font-family="Liberation Serif, Times New Roman, serif" font-style="italic">θ</text>
<text x="1785" y="1019.3" font-size="61" font-family="Liberation Serif, Times New Roman, serif">(</text>
<text x="1823.6" y="992.5" font-size="42" font-family="Liberation Serif, Times New Roman, serif" font-weight="bold">o</text>
<text x="1863" y="1019.3" font-size="61" font-family="Liberation Serif, Times New Roman, serif">)</text>
<text transform="translate(1308.5,83.7) scale(0.94,1)" font-size="74.8" font-family="Liberation Sans, Arial, sans-serif" font-weight="bold">(</text>
<text transform="translate(1333.0,83.7) scale(0.94,1)" font-size="74.8" font-family="Liberation Sans, Arial, sans-serif" font-weight="bold">b</text>
<text transform="translate(1377.8,83.7) scale(0.94,1)" font-size="74.8" font-family="Liberation Sans, Arial, sans-serif" font-weight="bold">)</text>
<line x1="1784.70" y1="321.00" x2="1935.30" y2="321.00" stroke="#f00" stroke-width="4" stroke-linecap="round"/>
<circle cx="1860.0" cy="321.0" r="5.6" fill="#f00"/>
<line x1="1784.70" y1="415.80" x2="1935.30" y2="415.80" stroke="#00f" stroke-width="4" stroke-linecap="round"/>
<rect x="1854.8" y="410.6" width="10.5" height="10.5" fill="#00f"/>
<text x="1958.8 2000 2018.6 2066 2083 2125 2143.1" y="344.8" font-size="65.7" font-family="Liberation Serif, Times New Roman, serif">R H C L</text>
<text x="1960.1 2000 2016.9 2066 2082 2125 2141.1" y="439.6" font-size="65.7" font-family="Liberation Serif, Times New Roman, serif">L H C L</text>
<polyline points="1343.1,844.8 1344.6,844.9 1346.1,844.9 1347.5,845.0 1349.0,845.1 1350.5,845.3 1352.0,845.4 1353.5,845.5 1355.0,845.6 1356.5,845.8 1358.0,845.9 1359.4,846.1 1360.9,846.2 1362.4,846.4 1363.9,846.5 1365.4,846.7 1366.9,846.9 1368.4,847.1 1369.9,847.3 1371.4,847.5 1372.8,847.8 1374.3,848.0 1375.8,848.2 1377.3,848.5 1378.8,848.8 1380.3,849.0 1381.8,849.3 1383.3,849.6 1384.7,849.8 1386.2,850.1 1387.7,850.4 1389.2,850.7 1390.7,851.1 1392.2,851.4 1393.7,851.7 1395.2,852.1 1396.6,852.5 1398.1,852.9 1399.6,853.3 1401.1,853.7 1402.6,854.2 1404.1,854.8 1405.6,855.4 1407.1,856.0 1408.6,856.7 1410.0,857.4 1411.5,858.1 1413.0,858.9 1414.5,859.7 1416.0,860.4 1417.5,861.2 1419.0,862.0 1420.5,862.7 1421.9,863.4 1423.4,864.1 1424.9,864.8 1426.4,865.5 1427.9,866.2 1429.4,866.8 1430.9,867.5 1432.4,868.2 1433.9,868.9 1435.3,869.6 1436.8,870.3 1438.3,871.0 1439.8,871.7 1441.3,872.5 1442.8,873.2 1444.3,874.1 1445.8,874.9 1447.2,875.8 1448.7,876.7 1450.2,877.6 1451.7,878.4 1453.2,879.2 1454.7,880.0 1456.2,880.6 1457.7,881.2 1459.1,881.7 1460.6,882.1 1462.1,882.4 1463.6,882.8 1465.1,883.1 1466.6,883.4 1468.1,883.6 1469.6,883.9 1471.1,884.1 1472.5,884.3 1474.0,884.5 1475.5,884.6 1477.0,884.7 1478.5,884.8 1480.0,884.8 1481.5,884.7 1483.0,884.4 1484.4,883.9 1485.9,883.3 1487.4,882.6 1488.9,881.7 1490.4,880.8 1491.9,879.8 1493.4,878.7 1494.9,877.7 1496.3,876.6 1497.8,875.6 1499.3,874.6 1500.8,873.7 1502.3,872.7 1503.8,871.6 1505.3,870.6 1506.8,869.4 1508.3,868.3 1509.7,867.1 1511.2,865.9 1512.7,864.8 1514.2,863.6 1515.7,862.5 1517.2,861.4 1518.7,860.4 1520.2,859.4 1521.6,858.4 1523.1,857.4 1524.6,856.3 1526.1,855.3 1527.6,854.3 1529.1,853.3 1530.6,852.3 1532.1,851.4 1533.5,850.6 1535.0,849.8 1536.5,849.1 1538.0,848.4 1539.5,847.9 1541.0,847.4 1542.5,846.8 1544.0,846.3 1545.5,845.8 1546.9,845.3 1548.4,844.8 1549.9,844.4 1551.4,844.0 1552.9,843.7 1554.4,843.5 1555.9,843.3 1557.4,843.2 1558.8,843.2 1560.3,843.3 1561.8,843.4 1563.3,843.6 1564.8,843.8 1566.3,844.1 1567.8,844.5 1569.3,844.8 1570.7,845.3 1572.2,845.7 1573.7,846.2 1575.2,846.7 1576.7,847.2 1578.2,847.7 1579.7,848.3 1581.2,849.1 1582.7,850.1 1584.1,851.1 1585.6,852.2 1587.1,853.5 1588.6,854.8 1590.1,856.1 1591.6,857.5 1593.1,859.0 1594.6,860.4 1596.0,861.9 1597.5,863.3 1599.0,864.8 1600.5,866.4 1602.0,868.0 1603.5,869.7 1605.0,871.5 1606.5,873.4 1607.9,875.2 1609.4,877.1 1610.9,879.0 1612.4,880.9 1613.9,882.8 1615.4,884.6 1616.9,886.4 1618.4,888.4 1619.9,890.7 1621.3,893.1 1622.8,895.4 1624.3,897.5 1625.8,899.2 1627.3,900.2 1628.8,900.6 1630.3,900.0 1631.8,898.7 1633.2,896.9 1634.7,894.9 1636.2,893.1 1637.7,891.4 1639.2,889.6 1640.7,887.7 1642.2,885.8 1643.7,883.8 1645.1,881.8 1646.6,879.8 1648.1,877.8 1649.6,875.9 1651.1,874.0 1652.6,872.3 1654.1,870.6 1655.6,869.2 1657.1,867.8 1658.5,866.4 1660.0,865.0 1661.5,863.6 1663.0,862.2 1664.5,860.8 1666.0,859.5 1667.5,858.4 1669.0,857.4 1670.4,856.5 1671.9,855.8 1673.4,855.3 1674.9,855.1 1676.4,855.0 1677.9,855.1 1679.4,855.1 1680.9,855.2 1682.3,855.3 1683.8,855.4 1685.3,855.5 1686.8,855.6 1688.3,855.8 1689.8,855.9 1691.3,856.1 1692.8,856.3 1694.3,856.5 1695.7,856.8 1697.2,857.2 1698.7,857.9 1700.2,858.8 1701.7,859.9 1703.2,861.2 1704.7,862.6 1706.2,864.1 1707.6,865.7 1709.1,867.3 1710.6,869.0 1712.1,870.6 1713.6,872.2 1715.1,873.8 1716.6,875.4 1718.1,877.2 1719.6,879.1 1721.0,881.0 1722.5,883.1 1724.0,885.1 1725.5,887.3 1727.0,889.4 1728.5,891.5 1730.0,893.5 1731.5,895.6 1732.9,897.5 1734.4,899.4 1735.9,901.6 1737.4,902.0 1738.9,901.3 1740.4,900.0 1741.9,898.2 1743.4,896.1 1744.8,893.7 1746.3,891.1 1747.8,888.4 1749.3,885.8 1750.8,883.3 1752.3,881.0 1753.8,879.1 1755.3,877.3 1756.8,875.5 1758.2,873.6 1759.7,871.8 1761.2,869.9 1762.7,868.1 1764.2,866.4 1765.7,864.8 1767.2,863.3 1768.7,862.1 1770.1,861.0 1771.6,860.2 1773.1,859.7 1774.6,859.3 1776.1,859.0 1777.6,858.7 1779.1,858.4 1780.6,858.2 1782.0,857.9 1783.5,857.7 1785.0,857.5 1786.5,857.4 1788.0,857.3 1789.5,857.2 1791.0,857.1 1792.5,857.1 1794.0,857.1 1795.4,857.5 1796.9,858.1 1798.4,859.0 1799.9,860.1 1801.4,861.4 1802.9,862.8 1804.4,864.3 1805.9,865.9 1807.3,867.6 1808.8,869.2 1810.3,870.9 1811.8,872.6 1813.3,874.2 1814.8,876.0 1816.3,878.0 1817.8,880.1 1819.2,882.3 1820.7,884.7 1822.2,887.1 1823.7,889.5 1825.2,891.9 1826.7,894.4 1828.2,896.7 1829.7,899.0 1831.2,901.1 1832.6,903.4 1834.1,904.1 1835.6,903.3 1837.1,901.7 1838.6,899.5 1840.1,896.7 1841.6,893.5 1843.1,890.0 1844.5,886.4 1846.0,882.7 1847.5,879.1 1849.0,875.7 1850.5,872.6 1852.0,870.0 1853.5,867.4 1855.0,864.8 1856.4,862.2 1857.9,859.7 1859.4,857.1 1860.9,854.6 1862.4,852.2 1863.9,849.8 1865.4,847.6 1866.9,845.4 1868.4,843.4 1869.8,841.5 1871.3,839.8 1872.8,838.1 1874.3,836.4 1875.8,834.7 1877.3,833.0 1878.8,831.4 1880.3,829.9 1881.7,828.4 1883.2,827.1 1884.7,825.9 1886.2,824.9 1887.7,824.0 1889.2,823.4 1890.7,823.0 1892.2,822.7 1893.6,822.5 1895.1,822.2 1896.6,822.0 1898.1,821.8 1899.6,821.6 1901.1,821.4 1902.6,821.3 1904.1,821.1 1905.6,821.0 1907.0,821.0 1908.5,820.9 1910.0,820.9 1911.5,821.0 1913.0,821.3 1914.5,821.8 1916.0,822.5 1917.5,823.4 1918.9,824.4 1920.4,825.5 1921.9,826.7 1923.4,827.9 1924.9,829.2 1926.4,830.5 1927.9,831.7 1929.4,833.0 1930.8,834.2 1932.3,835.5 1933.8,836.9 1935.3,838.4 1936.8,839.9 1938.3,841.5 1939.8,843.1 1941.3,844.8 1942.8,846.5 1944.2,848.1 1945.7,849.8 1947.2,851.4 1948.7,852.9 1950.2,854.4 1951.7,856.0 1953.2,857.7 1954.7,859.3 1956.1,861.0 1957.6,862.7 1959.1,864.4 1960.6,865.9 1962.1,867.4 1963.6,868.8 1965.1,870.1 1966.6,871.2 1968.1,872.1 1969.5,872.8 1971.0,873.5 1972.5,874.2 1974.0,874.9 1975.5,875.5 1977.0,876.1 1978.5,876.6 1980.0,877.1 1981.4,877.6 1982.9,877.9 1984.4,878.2 1985.9,878.4 1987.4,878.5 1988.9,878.6 1990.4,878.5 1991.9,878.3 1993.3,878.0 1994.8,877.7 1996.3,877.3 1997.8,876.8 1999.3,876.3 2000.8,875.8 2002.3,875.2 2003.8,874.7 2005.3,874.2 2006.7,873.7 2008.2,873.2 2009.7,872.7 2011.2,872.2 2012.7,871.7 2014.2,871.1 2015.7,870.6 2017.2,870.0 2018.6,869.4 2020.1,868.9 2021.6,868.4 2023.1,867.9 2024.6,867.4 2026.1,867.0 2027.6,866.7 2029.1,866.4 2030.5,866.1 2032.0,865.8 2033.5,865.6 2035.0,865.4 2036.5,865.2 2038.0,865.0 2039.5,864.8 2041.0,864.6 2042.5,864.4 2043.9,864.2 2045.4,863.9 2046.9,863.7 2048.4,863.4 2049.9,863.1 2051.4,862.7 2052.9,862.4 2054.4,862.1 2055.8,861.7 2057.3,861.3 2058.8,860.9 2060.3,860.6 2061.8,860.2 2063.3,859.8 2064.8,859.4 2066.3,858.9 2067.7,858.5 2069.2,858.1 2070.7,857.6 2072.2,857.2 2073.7,856.7 2075.2,856.2 2076.7,855.7 2078.2,855.2 2079.7,854.7 2081.1,854.2 2082.6,853.7 2084.1,853.2 2085.6,852.6 2087.1,852.1 2088.6,851.6 2090.1,851.1 2091.6,850.5 2093.0,850.0 2094.5,849.4 2096.0,848.9 2097.5,848.3 2099.0,847.8 2100.5,847.2 2102.0,846.7 2103.5,846.1 2104.9,845.5 2106.4,845.0 2107.9,844.4 2109.4,843.9 2110.9,843.3 2112.4,842.8 2113.9,842.2 2115.4,841.6 2116.9,841.1 2118.3,840.5 2119.8,840.0 2121.3,839.5 2122.8,839.0 2124.3,838.5 2125.8,838.0 2127.3,837.5 2128.8,837.0 2130.2,836.6 2131.7,836.1 2133.2,835.7 2134.7,835.2 2136.2,834.8 2137.7,834.4 2139.2,834.0 2140.7,833.6 2142.1,833.2 2143.6,832.9 2145.1,832.5 2146.6,832.2 2148.1,831.9 2149.6,831.6 2151.1,831.4 2152.6,831.1 2154.1,830.8 2155.5,830.6 2157.0,830.3 2158.5,830.1 2160.0,829.8 2161.5,829.6 2163.0,829.3 2164.5,829.0 2166.0,828.7 2167.4,828.5 2168.9,828.1 2170.4,827.8 2171.9,827.5 2173.4,827.2 2174.9,826.9 2176.4,826.6 2177.9,826.3 2179.3,826.1 2180.8,825.8 2182.3,825.6 2183.8,825.4 2185.3,825.3 2186.8,825.1 2188.3,824.9 2189.8,824.8 2191.3,824.7 2192.7,824.5 2194.2,824.4 2195.7,824.3 2197.2,824.2 2198.7,824.1 2200.2,824.0 2201.7,823.9 2203.2,823.8 2204.6,823.7 2206.1,823.7 2207.6,823.6 2209.1,823.5 2210.6,823.5 2212.1,823.4 2213.6,823.4 2215.1,823.3 2216.5,823.2 2218.0,823.2 2219.5,823.1 2221.0,823.1 2222.5,823.0 2224.0,823.0 2225.5,822.9 2227.0,822.8 2228.5,822.8 2229.9,822.7 2231.4,822.7 2232.9,822.6 2234.4,822.6" fill="none" stroke="#f00" stroke-width="4" stroke-linejoin="round" stroke-linecap="round"/>
<circle cx="1343.1" cy="844.8" r="5.7" fill="#f00"/>
<circle cx="1362.6" cy="846.4" r="5.7" fill="#f00"/>
<circle cx="1382.2" cy="849.4" r="5.7" fill="#f00"/>
<circle cx="1401.8" cy="853.9" r="5.7" fill="#f00"/>
<circle cx="1421.3" cy="863.1" r="5.7" fill="#f00"/>
<circle cx="1440.9" cy="872.3" r="5.7" fill="#f00"/>
<circle cx="1460.4" cy="882.1" r="5.7" fill="#f00"/>
<circle cx="1480.0" cy="884.8" r="5.7" fill="#f00"/>
<circle cx="1499.5" cy="874.5" r="5.7" fill="#f00"/>
<circle cx="1519.1" cy="860.1" r="5.7" fill="#f00"/>
<circle cx="1538.7" cy="848.2" r="5.7" fill="#f00"/>
<circle cx="1558.2" cy="843.2" r="5.7" fill="#f00"/>
<circle cx="1577.8" cy="847.6" r="5.7" fill="#f00"/>
<circle cx="1597.3" cy="863.1" r="5.7" fill="#f00"/>
<circle cx="1616.9" cy="886.4" r="5.7" fill="#f00"/>
<circle cx="1636.4" cy="892.8" r="5.7" fill="#f00"/>
<circle cx="1656.0" cy="868.8" r="5.7" fill="#f00"/>
<circle cx="1675.6" cy="855.0" r="5.7" fill="#f00"/>
<circle cx="1695.1" cy="856.6" r="5.7" fill="#f00"/>
<circle cx="1714.7" cy="873.3" r="5.7" fill="#f00"/>
<circle cx="1734.2" cy="899.1" r="5.7" fill="#f00"/>
<circle cx="1753.8" cy="879.1" r="5.7" fill="#f00"/>
<circle cx="1773.3" cy="859.6" r="5.7" fill="#f00"/>
<circle cx="1792.9" cy="857.1" r="5.7" fill="#f00"/>
<circle cx="1812.5" cy="873.3" r="5.7" fill="#f00"/>
<circle cx="1832.0" cy="902.3" r="5.7" fill="#f00"/>
<circle cx="1851.6" cy="870.7" r="5.7" fill="#f00"/>
<circle cx="1871.1" cy="840.0" r="5.7" fill="#f00"/>
<circle cx="1890.7" cy="823.0" r="5.7" fill="#f00"/>
<circle cx="1910.2" cy="820.9" r="5.7" fill="#f00"/>
<circle cx="1929.8" cy="833.3" r="5.7" fill="#f00"/>
<circle cx="1949.4" cy="853.6" r="5.7" fill="#f00"/>
<circle cx="1968.9" cy="872.5" r="5.7" fill="#f00"/>
<circle cx="1988.5" cy="878.6" r="5.7" fill="#f00"/>
<circle cx="2008.0" cy="873.3" r="5.7" fill="#f00"/>
<circle cx="2027.6" cy="866.7" r="5.7" fill="#f00"/>
<circle cx="2047.1" cy="863.6" r="5.7" fill="#f00"/>
<circle cx="2066.7" cy="858.8" r="5.7" fill="#f00"/>
<circle cx="2086.3" cy="852.4" r="5.7" fill="#f00"/>
<circle cx="2105.8" cy="845.2" r="5.7" fill="#f00"/>
<circle cx="2125.4" cy="838.1" r="5.7" fill="#f00"/>
<circle cx="2144.9" cy="832.6" r="5.7" fill="#f00"/>
<circle cx="2164.5" cy="829.0" r="5.7" fill="#f00"/>
<circle cx="2184.0" cy="825.4" r="5.7" fill="#f00"/>
<circle cx="2203.6" cy="823.8" r="5.7" fill="#f00"/>
<circle cx="2223.2" cy="823.0" r="5.7" fill="#f00"/>
<polyline points="1343.1,861.9 1344.6,861.8 1346.1,861.7 1347.5,861.5 1349.0,861.4 1350.5,861.3 1352.0,861.2 1353.5,861.1 1355.0,861.0 1356.5,860.9 1358.0,860.9 1359.4,860.8 1360.9,860.8 1362.4,860.8 1363.9,860.8 1365.4,860.8 1366.9,860.8 1368.4,860.8 1369.9,860.8 1371.4,860.8 1372.8,860.8 1374.3,860.8 1375.8,860.8 1377.3,860.8 1378.8,860.8 1380.3,860.8 1381.8,860.8 1383.3,860.8 1384.7,860.7 1386.2,860.7 1387.7,860.6 1389.2,860.5 1390.7,860.4 1392.2,860.3 1393.7,860.1 1395.2,860.0 1396.6,859.8 1398.1,859.6 1399.6,859.4 1401.1,859.3 1402.6,859.1 1404.1,858.9 1405.6,858.6 1407.1,858.3 1408.6,858.1 1410.0,857.7 1411.5,857.4 1413.0,857.0 1414.5,856.6 1416.0,856.2 1417.5,855.8 1419.0,855.3 1420.5,854.9 1421.9,854.4 1423.4,853.8 1424.9,853.2 1426.4,852.6 1427.9,851.9 1429.4,851.1 1430.9,850.3 1432.4,849.5 1433.9,848.6 1435.3,847.7 1436.8,846.8 1438.3,845.9 1439.8,845.0 1441.3,844.0 1442.8,843.0 1444.3,842.0 1445.8,840.9 1447.2,839.8 1448.7,838.7 1450.2,837.5 1451.7,836.3 1453.2,835.0 1454.7,833.8 1456.2,832.6 1457.7,831.3 1459.1,830.0 1460.6,828.8 1462.1,827.5 1463.6,826.2 1465.1,824.9 1466.6,823.6 1468.1,822.3 1469.6,820.9 1471.1,819.6 1472.5,818.2 1474.0,816.8 1475.5,815.4 1477.0,814.0 1478.5,812.6 1480.0,811.2 1481.5,809.7 1483.0,808.2 1484.4,806.7 1485.9,805.1 1487.4,803.6 1488.9,802.0 1490.4,800.4 1491.9,798.9 1493.4,797.3 1494.9,795.7 1496.3,794.2 1497.8,792.7 1499.3,791.2 1500.8,789.7 1502.3,788.2 1503.8,786.8 1505.3,785.3 1506.8,783.9 1508.3,782.4 1509.7,781.0 1511.2,779.6 1512.7,778.2 1514.2,776.8 1515.7,775.4 1517.2,774.0 1518.7,772.6 1520.2,771.2 1521.6,769.9 1523.1,768.6 1524.6,767.3 1526.1,766.0 1527.6,764.7 1529.1,763.5 1530.6,762.2 1532.1,760.9 1533.5,759.6 1535.0,758.2 1536.5,756.9 1538.0,755.5 1539.5,754.0 1541.0,752.6 1542.5,751.2 1544.0,749.8 1545.5,748.4 1546.9,746.9 1548.4,745.4 1549.9,743.9 1551.4,742.3 1552.9,740.6 1554.4,738.8 1555.9,737.0 1557.4,735.0 1558.8,732.9 1560.3,730.6 1561.8,728.1 1563.3,725.5 1564.8,722.7 1566.3,719.8 1567.8,716.7 1569.3,713.4 1570.7,710.1 1572.2,706.6 1573.7,703.0 1575.2,699.2 1576.7,695.4 1578.2,691.4 1579.7,687.3 1581.2,682.8 1582.7,678.1 1584.1,673.2 1585.6,668.0 1587.1,662.7 1588.6,657.1 1590.1,651.4 1591.6,645.5 1593.1,639.5 1594.6,633.3 1596.0,627.1 1597.5,620.7 1599.0,614.1 1600.5,607.2 1602.0,600.0 1603.5,592.5 1605.0,584.8 1606.5,576.9 1607.9,568.8 1609.4,560.7 1610.9,552.4 1612.4,544.0 1613.9,535.6 1615.4,527.2 1616.9,518.8 1618.4,510.3 1619.9,501.6 1621.3,492.7 1622.8,483.7 1624.3,474.5 1625.8,465.3 1627.3,456.1 1628.8,446.8 1630.3,437.5 1631.8,428.3 1633.2,419.2 1634.7,410.2 1636.2,401.3 1637.7,392.5 1639.2,383.5 1640.7,374.6 1642.2,365.6 1643.7,356.6 1645.1,347.6 1646.6,338.8 1648.1,330.1 1649.6,321.6 1651.1,313.2 1652.6,305.1 1654.1,297.3 1655.6,289.9 1657.1,282.6 1658.5,275.3 1660.0,267.9 1661.5,260.5 1663.0,253.2 1664.5,246.1 1666.0,239.3 1667.5,232.8 1669.0,226.6 1670.4,220.9 1671.9,215.8 1673.4,211.3 1674.9,207.4 1676.4,204.2 1677.9,201.1 1679.4,198.0 1680.9,195.1 1682.3,192.2 1683.8,189.5 1685.3,187.1 1686.8,184.8 1688.3,182.9 1689.8,181.2 1691.3,179.9 1692.8,179.0 1694.3,178.5 1695.7,178.5 1697.2,179.1 1698.7,180.3 1700.2,182.1 1701.7,184.5 1703.2,187.2 1704.7,190.4 1706.2,193.9 1707.6,197.7 1709.1,201.7 1710.6,205.9 1712.1,210.2 1713.6,214.5 1715.1,218.9 1716.6,223.9 1718.1,229.6 1719.6,236.0 1721.0,243.1 1722.5,250.7 1724.0,258.8 1725.5,267.2 1727.0,276.0 1728.5,285.0 1730.0,294.2 1731.5,303.5 1732.9,312.8 1734.4,322.1 1735.9,331.6 1737.4,341.6 1738.9,352.1 1740.4,362.9 1741.9,374.0 1743.4,385.3 1744.8,396.9 1746.3,408.6 1747.8,420.4 1749.3,432.2 1750.8,444.0 1752.3,455.7 1753.8,467.3 1755.3,479.0 1756.8,491.1 1758.2,503.4 1759.7,515.9 1761.2,528.6 1762.7,541.2 1764.2,553.7 1765.7,566.1 1767.2,578.1 1768.7,589.8 1770.1,601.0 1771.6,611.6 1773.1,621.6 1774.6,631.2 1776.1,641.0 1777.6,650.9 1779.1,660.7 1780.6,670.4 1782.0,679.7 1783.5,688.7 1785.0,697.1 1786.5,704.8 1788.0,711.7 1789.5,717.7 1791.0,722.7 1792.5,726.4 1794.0,729.3 1795.4,731.9 1796.9,734.3 1798.4,736.4 1799.9,738.0 1801.4,739.0 1802.9,739.3 1804.4,738.9 1805.9,737.9 1807.3,736.4 1808.8,734.7 1810.3,732.9 1811.8,731.1 1813.3,729.4 1814.8,727.4 1816.3,725.1 1817.8,722.6 1819.2,720.0 1820.7,717.3 1822.2,714.5 1823.7,711.8 1825.2,709.1 1826.7,706.6 1828.2,704.3 1829.7,702.2 1831.2,700.4 1832.6,698.9 1834.1,697.4 1835.6,695.9 1837.1,694.6 1838.6,693.4 1840.1,692.4 1841.6,691.9 1843.1,691.7 1844.5,691.9 1846.0,692.2 1847.5,692.7 1849.0,693.3 1850.5,694.0 1852.0,694.7 1853.5,695.6 1855.0,696.9 1856.4,698.4 1857.9,700.2 1859.4,702.1 1860.9,704.3 1862.4,706.5 1863.9,708.9 1865.4,711.3 1866.9,713.8 1868.4,716.2 1869.8,718.6 1871.3,721.0 1872.8,723.5 1874.3,726.1 1875.8,728.9 1877.3,731.7 1878.8,734.7 1880.3,737.7 1881.7,740.7 1883.2,743.7 1884.7,746.7 1886.2,749.6 1887.7,752.4 1889.2,755.0 1890.7,757.5 1892.2,759.9 1893.6,762.4 1895.1,764.9 1896.6,767.3 1898.1,769.7 1899.6,772.1 1901.1,774.4 1902.6,776.6 1904.1,778.6 1905.6,780.5 1907.0,782.2 1908.5,783.7 1910.0,785.0 1911.5,786.2 1913.0,787.2 1914.5,788.2 1916.0,789.1 1917.5,790.0 1918.9,790.8 1920.4,791.6 1921.9,792.3 1923.4,793.0 1924.9,793.6 1926.4,794.2 1927.9,794.8 1929.4,795.4 1930.8,796.0 1932.3,796.5 1933.8,797.0 1935.3,797.4 1936.8,797.8 1938.3,798.2 1939.8,798.6 1941.3,799.0 1942.8,799.4 1944.2,799.8 1945.7,800.3 1947.2,800.8 1948.7,801.4 1950.2,802.0 1951.7,802.7 1953.2,803.5 1954.7,804.3 1956.1,805.2 1957.6,806.2 1959.1,807.2 1960.6,808.3 1962.1,809.4 1963.6,810.5 1965.1,811.7 1966.6,812.9 1968.1,814.2 1969.5,815.5 1971.0,816.9 1972.5,818.4 1974.0,819.9 1975.5,821.6 1977.0,823.3 1978.5,825.1 1980.0,827.0 1981.4,828.8 1982.9,830.7 1984.4,832.6 1985.9,834.4 1987.4,836.3 1988.9,838.1 1990.4,840.0 1991.9,841.9 1993.3,843.8 1994.8,845.8 1996.3,847.8 1997.8,849.8 1999.3,851.8 2000.8,853.8 2002.3,855.7 2003.8,857.5 2005.3,859.3 2006.7,861.0 2008.2,862.6 2009.7,864.2 2011.2,866.0 2012.7,867.8 2014.2,869.5 2015.7,871.0 2017.2,872.3 2018.6,873.2 2020.1,873.7 2021.6,873.7 2023.1,873.4 2024.6,873.1 2026.1,872.6 2027.6,872.1 2029.1,871.6 2030.5,871.1 2032.0,870.4 2033.5,869.7 2035.0,869.0 2036.5,868.2 2038.0,867.3 2039.5,866.4 2041.0,865.5 2042.5,864.5 2043.9,863.5 2045.4,862.5 2046.9,861.5 2048.4,860.4 2049.9,859.3 2051.4,858.0 2052.9,856.6 2054.4,855.1 2055.8,853.7 2057.3,852.1 2058.8,850.6 2060.3,849.2 2061.8,847.7 2063.3,846.3 2064.8,845.0 2066.3,843.8 2067.7,842.7 2069.2,841.6 2070.7,840.6 2072.2,839.5 2073.7,838.5 2075.2,837.6 2076.7,836.6 2078.2,835.7 2079.7,834.8 2081.1,833.9 2082.6,833.1 2084.1,832.3 2085.6,831.5 2087.1,830.8 2088.6,830.0 2090.1,829.3 2091.6,828.6 2093.0,827.8 2094.5,827.1 2096.0,826.4 2097.5,825.8 2099.0,825.2 2100.5,824.7 2102.0,824.2 2103.5,823.8 2104.9,823.4 2106.4,823.2 2107.9,823.0 2109.4,822.7 2110.9,822.5 2112.4,822.3 2113.9,822.2 2115.4,822.0 2116.9,821.8 2118.3,821.7 2119.8,821.6 2121.3,821.5 2122.8,821.4 2124.3,821.4 2125.8,821.4 2127.3,821.4 2128.8,821.4 2130.2,821.4 2131.7,821.4 2133.2,821.4 2134.7,821.4 2136.2,821.4 2137.7,821.4 2139.2,821.4 2140.7,821.4 2142.1,821.4 2143.6,821.4 2145.1,821.4 2146.6,821.4 2148.1,821.5 2149.6,821.6 2151.1,821.8 2152.6,822.0 2154.1,822.3 2155.5,822.5 2157.0,822.8 2158.5,823.1 2160.0,823.4 2161.5,823.7 2163.0,823.9 2164.5,824.2 2166.0,824.5 2167.4,824.8 2168.9,825.2 2170.4,825.5 2171.9,825.9 2173.4,826.3 2174.9,826.7 2176.4,827.1 2177.9,827.4 2179.3,827.8 2180.8,828.2 2182.3,828.6 2183.8,829.0 2185.3,829.3 2186.8,829.7 2188.3,830.0 2189.8,830.4 2191.3,830.7 2192.7,831.0 2194.2,831.4 2195.7,831.7 2197.2,832.1 2198.7,832.4 2200.2,832.7 2201.7,833.1 2203.2,833.4 2204.6,833.8 2206.1,834.1 2207.6,834.5 2209.1,834.8 2210.6,835.2 2212.1,835.6 2213.6,835.9 2215.1,836.3 2216.5,836.6 2218.0,837.0 2219.5,837.3 2221.0,837.6 2222.5,838.0 2224.0,838.3 2225.5,838.6 2227.0,838.9 2228.5,839.2 2229.9,839.5 2231.4,839.7 2232.9,840.0 2234.4,840.3" fill="none" stroke="#00f" stroke-width="4" stroke-linejoin="round" stroke-linecap="round"/>
<rect x="1337.7" y="856.5" width="10.8" height="10.8" fill="#00f"/>
<rect x="1357.2" y="855.4" width="10.8" height="10.8" fill="#00f"/>
<rect x="1376.8" y="855.4" width="10.8" height="10.8" fill="#00f"/>
<rect x="1396.4" y="853.8" width="10.8" height="10.8" fill="#00f"/>
<rect x="1415.9" y="849.2" width="10.8" height="10.8" fill="#00f"/>
<rect x="1435.5" y="838.9" width="10.8" height="10.8" fill="#00f"/>
<rect x="1455.0" y="823.6" width="10.8" height="10.8" fill="#00f"/>
<rect x="1474.6" y="805.8" width="10.8" height="10.8" fill="#00f"/>
<rect x="1494.1" y="785.6" width="10.8" height="10.8" fill="#00f"/>
<rect x="1513.7" y="766.8" width="10.8" height="10.8" fill="#00f"/>
<rect x="1533.3" y="749.4" width="10.8" height="10.8" fill="#00f"/>
<rect x="1552.8" y="728.4" width="10.8" height="10.8" fill="#00f"/>
<rect x="1572.4" y="687.2" width="10.8" height="10.8" fill="#00f"/>
<rect x="1591.9" y="616.2" width="10.8" height="10.8" fill="#00f"/>
<rect x="1611.5" y="513.3" width="10.8" height="10.8" fill="#00f"/>
<rect x="1631.0" y="394.6" width="10.8" height="10.8" fill="#00f"/>
<rect x="1650.6" y="282.3" width="10.8" height="10.8" fill="#00f"/>
<rect x="1670.2" y="200.6" width="10.8" height="10.8" fill="#00f"/>
<rect x="1689.7" y="173.0" width="10.8" height="10.8" fill="#00f"/>
<rect x="1709.3" y="212.2" width="10.8" height="10.8" fill="#00f"/>
<rect x="1728.8" y="315.4" width="10.8" height="10.8" fill="#00f"/>
<rect x="1748.4" y="461.9" width="10.8" height="10.8" fill="#00f"/>
<rect x="1767.9" y="617.6" width="10.8" height="10.8" fill="#00f"/>
<rect x="1787.5" y="721.9" width="10.8" height="10.8" fill="#00f"/>
<rect x="1807.1" y="725.0" width="10.8" height="10.8" fill="#00f"/>
<rect x="1826.6" y="694.1" width="10.8" height="10.8" fill="#00f"/>
<rect x="1846.2" y="689.1" width="10.8" height="10.8" fill="#00f"/>
<rect x="1865.7" y="715.3" width="10.8" height="10.8" fill="#00f"/>
<rect x="1885.3" y="752.1" width="10.8" height="10.8" fill="#00f"/>
<rect x="1904.8" y="779.8" width="10.8" height="10.8" fill="#00f"/>
<rect x="1924.4" y="790.2" width="10.8" height="10.8" fill="#00f"/>
<rect x="1944.0" y="796.2" width="10.8" height="10.8" fill="#00f"/>
<rect x="1963.5" y="809.5" width="10.8" height="10.8" fill="#00f"/>
<rect x="1983.1" y="832.2" width="10.8" height="10.8" fill="#00f"/>
<rect x="2002.6" y="857.0" width="10.8" height="10.8" fill="#00f"/>
<rect x="2022.2" y="866.7" width="10.8" height="10.8" fill="#00f"/>
<rect x="2041.7" y="856.0" width="10.8" height="10.8" fill="#00f"/>
<rect x="2061.3" y="838.1" width="10.8" height="10.8" fill="#00f"/>
<rect x="2080.9" y="825.8" width="10.8" height="10.8" fill="#00f"/>
<rect x="2100.4" y="817.9" width="10.8" height="10.8" fill="#00f"/>
<rect x="2120.0" y="816.0" width="10.8" height="10.8" fill="#00f"/>
<rect x="2139.5" y="816.0" width="10.8" height="10.8" fill="#00f"/>
<rect x="2159.1" y="818.8" width="10.8" height="10.8" fill="#00f"/>
<rect x="2178.6" y="823.6" width="10.8" height="10.8" fill="#00f"/>
<rect x="2198.2" y="828.1" width="10.8" height="10.8" fill="#00f"/>
<rect x="2217.8" y="832.7" width="10.8" height="10.8" fill="#00f"/>
<line x1="782.00" y1="1933.00" x2="1702.00" y2="1933.00" stroke="#000" stroke-width="3.85" stroke-linecap="butt"/>
<line x1="784.00" y1="1175.00" x2="784.00" y2="1949.70" stroke="#000" stroke-width="3.95" stroke-linecap="butt"/>
<line x1="774.50" y1="1176.90" x2="1702.00" y2="1176.90" stroke="#000" stroke-width="3.85" stroke-linecap="butt"/>
<line x1="1700.00" y1="1175.00" x2="1700.00" y2="1949.70" stroke="#000" stroke-width="4.05" stroke-linecap="butt"/>
<line x1="784.00" y1="1933.00" x2="784.00" y2="1949.70" stroke="#000" stroke-width="4" stroke-linecap="butt"/>
<text transform="translate(783.5,1986.1) scale(1,1)" font-size="37.8" font-family="Liberation Sans, Arial, sans-serif" font-weight="bold" text-anchor="middle">-90</text>
<line x1="834.89" y1="1933.00" x2="834.89" y2="1949.70" stroke="#000" stroke-width="4" stroke-linecap="butt"/>
<text transform="translate(834.4,1986.1) scale(1,1)" font-size="37.8" font-family="Liberation Sans, Arial, sans-serif" font-weight="bold" text-anchor="middle">-80</text>
<line x1="885.78" y1="1933.00" x2="885.78" y2="1949.70" stroke="#000" stroke-width="4" stroke-linecap="butt"/>
<text transform="translate(885.3,1986.1) scale(1,1)" font-size="37.8" font-family="Liberation Sans, Arial, sans-serif" font-weight="bold" text-anchor="middle">-70</text>
<line x1="936.67" y1="1933.00" x2="936.67" y2="1949.70" stroke="#000" stroke-width="4" stroke-linecap="butt"/>
<text transform="translate(936.2,1986.1) scale(1,1)" font-size="37.8" font-family="Liberation Sans, Arial, sans-serif" font-weight="bold" text-anchor="middle">-60</text>
<line x1="987.56" y1="1933.00" x2="987.56" y2="1949.70" stroke="#000" stroke-width="4" stroke-linecap="butt"/>
<text transform="translate(987.1,1986.1) scale(1,1)" font-size="37.8" font-family="Liberation Sans, Arial, sans-serif" font-weight="bold" text-anchor="middle">-50</text>
<line x1="1038.44" y1="1933.00" x2="1038.44" y2="1949.70" stroke="#000" stroke-width="4" stroke-linecap="butt"/>
<text transform="translate(1037.9,1986.1) scale(1,1)" font-size="37.8" font-family="Liberation Sans, Arial, sans-serif" font-weight="bold" text-anchor="middle">-40</text>
<line x1="1089.33" y1="1933.00" x2="1089.33" y2="1949.70" stroke="#000" stroke-width="4" stroke-linecap="butt"/>
<text transform="translate(1088.8,1986.1) scale(1,1)" font-size="37.8" font-family="Liberation Sans, Arial, sans-serif" font-weight="bold" text-anchor="middle">-30</text>
<line x1="1140.22" y1="1933.00" x2="1140.22" y2="1949.70" stroke="#000" stroke-width="4" stroke-linecap="butt"/>
<text transform="translate(1139.7,1986.1) scale(1,1)" font-size="37.8" font-family="Liberation Sans, Arial, sans-serif" font-weight="bold" text-anchor="middle">-20</text>
<line x1="1191.11" y1="1933.00" x2="1191.11" y2="1949.70" stroke="#000" stroke-width="4" stroke-linecap="butt"/>
<text transform="translate(1190.6,1986.1) scale(1,1)" font-size="37.8" font-family="Liberation Sans, Arial, sans-serif" font-weight="bold" text-anchor="middle">-10</text>
<line x1="1242.00" y1="1933.00" x2="1242.00" y2="1949.70" stroke="#000" stroke-width="4" stroke-linecap="butt"/>
<text transform="translate(1238.6,1986.1) scale(1,1)" font-size="37.8" font-family="Liberation Sans, Arial, sans-serif" font-weight="bold" text-anchor="middle">0</text>
<line x1="1292.89" y1="1933.00" x2="1292.89" y2="1949.70" stroke="#000" stroke-width="4" stroke-linecap="butt"/>
<text transform="translate(1292.9,1986.1) scale(1,1)" font-size="37.8" font-family="Liberation Sans, Arial, sans-serif" font-weight="bold" text-anchor="middle">10</text>
<line x1="1343.78" y1="1933.00" x2="1343.78" y2="1949.70" stroke="#000" stroke-width="4" stroke-linecap="butt"/>
<text transform="translate(1342.3,1986.1) scale(1,1)" font-size="37.8" font-family="Liberation Sans, Arial, sans-serif" font-weight="bold" text-anchor="middle">20</text>
<line x1="1394.67" y1="1933.00" x2="1394.67" y2="1949.70" stroke="#000" stroke-width="4" stroke-linecap="butt"/>
<text transform="translate(1393.2,1986.1) scale(1,1)" font-size="37.8" font-family="Liberation Sans, Arial, sans-serif" font-weight="bold" text-anchor="middle">30</text>
<line x1="1445.56" y1="1933.00" x2="1445.56" y2="1949.70" stroke="#000" stroke-width="4" stroke-linecap="butt"/>
<text transform="translate(1444.1,1986.1) scale(1,1)" font-size="37.8" font-family="Liberation Sans, Arial, sans-serif" font-weight="bold" text-anchor="middle">40</text>
<line x1="1496.44" y1="1933.00" x2="1496.44" y2="1949.70" stroke="#000" stroke-width="4" stroke-linecap="butt"/>
<text transform="translate(1494.9,1986.1) scale(1,1)" font-size="37.8" font-family="Liberation Sans, Arial, sans-serif" font-weight="bold" text-anchor="middle">50</text>
<line x1="1547.33" y1="1933.00" x2="1547.33" y2="1949.70" stroke="#000" stroke-width="4" stroke-linecap="butt"/>
<text transform="translate(1545.8,1986.1) scale(1,1)" font-size="37.8" font-family="Liberation Sans, Arial, sans-serif" font-weight="bold" text-anchor="middle">60</text>
<line x1="1598.22" y1="1933.00" x2="1598.22" y2="1949.70" stroke="#000" stroke-width="4" stroke-linecap="butt"/>
<text transform="translate(1596.7,1986.1) scale(1,1)" font-size="37.8" font-family="Liberation Sans, Arial, sans-serif" font-weight="bold" text-anchor="middle">70</text>
<line x1="1649.11" y1="1933.00" x2="1649.11" y2="1949.70" stroke="#000" stroke-width="4" stroke-linecap="butt"/>
<text transform="translate(1647.6,1986.1) scale(1,1)" font-size="37.8" font-family="Liberation Sans, Arial, sans-serif" font-weight="bold" text-anchor="middle">80</text>
<line x1="1700.00" y1="1933.00" x2="1700.00" y2="1949.70" stroke="#000" stroke-width="4" stroke-linecap="butt"/>
<text transform="translate(1698.5,1986.1) scale(1,1)" font-size="37.8" font-family="Liberation Sans, Arial, sans-serif" font-weight="bold" text-anchor="middle">90</text>
<line x1="809.44" y1="1933.00" x2="809.44" y2="1942.70" stroke="#000" stroke-width="4" stroke-linecap="butt"/>
<line x1="860.33" y1="1933.00" x2="860.33" y2="1942.70" stroke="#000" stroke-width="4" stroke-linecap="butt"/>
<line x1="911.22" y1="1933.00" x2="911.22" y2="1942.70" stroke="#000" stroke-width="4" stroke-linecap="butt"/>
<line x1="962.11" y1="1933.00" x2="962.11" y2="1942.70" stroke="#000" stroke-width="4" stroke-linecap="butt"/>
<line x1="1013.00" y1="1933.00" x2="1013.00" y2="1942.70" stroke="#000" stroke-width="4" stroke-linecap="butt"/>
<line x1="1063.89" y1="1933.00" x2="1063.89" y2="1942.70" stroke="#000" stroke-width="4" stroke-linecap="butt"/>
<line x1="1114.78" y1="1933.00" x2="1114.78" y2="1942.70" stroke="#000" stroke-width="4" stroke-linecap="butt"/>
<line x1="1165.67" y1="1933.00" x2="1165.67" y2="1942.70" stroke="#000" stroke-width="4" stroke-linecap="butt"/>
<line x1="1216.56" y1="1933.00" x2="1216.56" y2="1942.70" stroke="#000" stroke-width="4" stroke-linecap="butt"/>
<line x1="1267.44" y1="1933.00" x2="1267.44" y2="1942.70" stroke="#000" stroke-width="4" stroke-linecap="butt"/>
<line x1="1318.33" y1="1933.00" x2="1318.33" y2="1942.70" stroke="#000" stroke-width="4" stroke-linecap="butt"/>
<line x1="1369.22" y1="1933.00" x2="1369.22" y2="1942.70" stroke="#000" stroke-width="4" stroke-linecap="butt"/>
<line x1="1420.11" y1="1933.00" x2="1420.11" y2="1942.70" stroke="#000" stroke-width="4" stroke-linecap="butt"/>
<line x1="1471.00" y1="1933.00" x2="1471.00" y2="1942.70" stroke="#000" stroke-width="4" stroke-linecap="butt"/>
<line x1="1521.89" y1="1933.00" x2="1521.89" y2="1942.70" stroke="#000" stroke-width="4" stroke-linecap="butt"/>
<line x1="1572.78" y1="1933.00" x2="1572.78" y2="1942.70" stroke="#000" stroke-width="4" stroke-linecap="butt"/>
<line x1="1623.67" y1="1933.00" x2="1623.67" y2="1942.70" stroke="#000" stroke-width="4" stroke-linecap="butt"/>
<line x1="1674.56" y1="1933.00" x2="1674.56" y2="1942.70" stroke="#000" stroke-width="4" stroke-linecap="butt"/>
<line x1="769.00" y1="1933.00" x2="784.00" y2="1933.00" stroke="#000" stroke-width="3.9" stroke-linecap="butt"/>
<text transform="translate(771.5,1945.0) scale(0.955,1)" font-size="41" font-family="Liberation Sans, Arial, sans-serif" font-weight="bold" text-anchor="end">0</text>
<line x1="774.50" y1="1806.68" x2="784.00" y2="1806.68" stroke="#000" stroke-width="3.9" stroke-linecap="butt"/>
<text transform="translate(776.7,1819.0) scale(0.955,1)" font-size="41" font-family="Liberation Sans, Arial, sans-serif" font-weight="bold" text-anchor="end">10</text>
<line x1="774.50" y1="1680.36" x2="784.00" y2="1680.36" stroke="#000" stroke-width="3.9" stroke-linecap="butt"/>
<text transform="translate(776.7,1693.0) scale(0.955,1)" font-size="41" font-family="Liberation Sans, Arial, sans-serif" font-weight="bold" text-anchor="end">20</text>
<line x1="774.50" y1="1554.04" x2="784.00" y2="1554.04" stroke="#000" stroke-width="3.9" stroke-linecap="butt"/>
<text transform="translate(776.7,1567.0) scale(0.955,1)" font-size="41" font-family="Liberation Sans, Arial, sans-serif" font-weight="bold" text-anchor="end">30</text>
<line x1="774.50" y1="1427.72" x2="784.00" y2="1427.72" stroke="#000" stroke-width="3.9" stroke-linecap="butt"/>
<text transform="translate(776.7,1441.1) scale(0.955,1)" font-size="41" font-family="Liberation Sans, Arial, sans-serif" font-weight="bold" text-anchor="end">40</text>
<line x1="774.50" y1="1301.40" x2="784.00" y2="1301.40" stroke="#000" stroke-width="3.9" stroke-linecap="butt"/>
<text transform="translate(776.7,1315.1) scale(0.955,1)" font-size="41" font-family="Liberation Sans, Arial, sans-serif" font-weight="bold" text-anchor="end">50</text>
<text transform="translate(776.7,1189.3) scale(0.955,1)" font-size="41" font-family="Liberation Sans, Arial, sans-serif" font-weight="bold" text-anchor="end">60</text>
<line x1="776.40" y1="1870.64" x2="784.00" y2="1870.64" stroke="#000" stroke-width="3.9" stroke-linecap="butt"/>
<line x1="776.40" y1="1744.32" x2="784.00" y2="1744.32" stroke="#000" stroke-width="3.9" stroke-linecap="butt"/>
<line x1="776.40" y1="1618.00" x2="784.00" y2="1618.00" stroke="#000" stroke-width="3.9" stroke-linecap="butt"/>
<line x1="776.40" y1="1491.68" x2="784.00" y2="1491.68" stroke="#000" stroke-width="3.9" stroke-linecap="butt"/>
<line x1="776.40" y1="1365.36" x2="784.00" y2="1365.36" stroke="#000" stroke-width="3.9" stroke-linecap="butt"/>
<line x1="776.40" y1="1239.04" x2="784.00" y2="1239.04" stroke="#000" stroke-width="3.9" stroke-linecap="butt"/>
<text transform="translate(696.7,1739) rotate(-90)" font-size="66" font-family="Liberation Serif, Times New Roman, serif" font-weight="bold" xml:space="preserve">Axial ratio <tspan font-weight="normal" font-size="61" dy="-2">( </tspan><tspan dy="2">dB</tspan><tspan font-weight="normal" font-size="61" dy="-2"> )</tspan></text>
<text transform="translate(1193.6,2048.6) scale(1.18,1)" font-size="61.7" font-family="Liberation Serif, Times New Roman, serif" font-style="italic">θ</text>
<text x="1249" y="2048.7" font-size="64.2" font-family="Liberation Serif, Times New Roman, serif">(</text>
<text x="1287.8" y="2020.4" font-size="42" font-family="Liberation Serif, Times New Roman, serif" font-weight="bold">o</text>
<text x="1327" y="2048.7" font-size="64.2" font-family="Liberation Serif, Times New Roman, serif">)</text>
<text transform="translate(768.5,1099) scale(0.94,1)" font-size="74.8" font-family="Liberation Sans, Arial, sans-serif" font-weight="bold">(</text>
<text transform="translate(792.0,1099) scale(0.94,1)" font-size="74.8" font-family="Liberation Sans, Arial, sans-serif" font-weight="bold">c</text>
<text transform="translate(827.5,1099) scale(0.94,1)" font-size="74.8" font-family="Liberation Sans, Arial, sans-serif" font-weight="bold">)</text>
<line x1="862.00" y1="1307.90" x2="1027.80" y2="1307.90" stroke="#f00" stroke-width="3.9" stroke-linecap="round"/>
<rect x="940.1" y="1302.6" width="10.8" height="10.8" fill="#f00"/>
<text x="1049" y="1333.2" font-size="66" font-family="Liberation Serif, Times New Roman, serif">XOZ plane</text>
<polyline points="778.9,1740.1 779.9,1739.5 781.0,1738.8 782.0,1738.1 783.0,1737.3 784.1,1736.5 785.1,1735.7 786.1,1734.8 787.2,1733.8 788.2,1732.9 789.2,1731.8 790.2,1730.8 791.3,1729.7 792.3,1728.6 793.3,1727.5 794.4,1726.3 795.4,1725.1 796.4,1723.9 797.5,1722.7 798.5,1721.5 799.3,1720.5 799.5,1720.2 800.6,1718.9 801.6,1717.6 802.6,1716.2 803.6,1714.8 804.7,1713.4 805.7,1711.9 806.7,1710.3 807.8,1708.7 808.8,1707.1 809.8,1705.4 810.9,1703.6 811.9,1701.8 812.9,1699.8 813.9,1697.9 815.0,1695.8 816.0,1693.6 817.0,1691.4 818.1,1689.0 819.1,1686.6 819.6,1685.3 820.1,1684.0 821.2,1681.1 822.2,1678.0 823.2,1674.5 824.3,1670.7 825.3,1666.8 826.3,1662.5 827.3,1658.1 828.4,1653.5 829.1,1650.2 829.4,1648.8 830.4,1643.7 831.5,1638.2 832.5,1632.2 833.5,1625.6 834.6,1618.5 835.1,1614.5 835.6,1610.9 836.6,1602.9 837.6,1594.1 838.7,1583.3 839.7,1569.7 840.0,1565.6 840.7,1547.8 841.7,1519.2 841.8,1517.3 842.8,1488.2 843.4,1471.5 843.8,1457.9 844.9,1426.1 845.3,1421.4 845.9,1425.0 846.9,1443.5 848.0,1466.6 848.2,1471.5 849.0,1486.3 850.0,1506.7 851.0,1527.7 851.8,1543.0 852.1,1548.6 853.1,1571.1 854.1,1593.3 855.2,1612.4 855.3,1614.5 856.2,1627.4 857.2,1640.5 858.3,1652.3 859.3,1663.5 860.3,1674.6 860.3,1674.8 861.3,1686.2 862.4,1697.7 863.4,1708.9 864.4,1719.4 865.5,1728.7 866.1,1733.7 866.5,1736.6 867.5,1743.7 868.6,1750.2 869.6,1756.3 870.6,1761.9 871.7,1767.0 872.7,1771.9 873.2,1774.2 873.7,1776.4 874.7,1780.6 875.8,1784.5 876.8,1788.1 877.8,1791.6 878.9,1795.0 879.9,1798.4 880.7,1801.1 880.9,1801.9 882.0,1805.5 883.0,1809.1 884.0,1812.9 885.0,1816.6 886.1,1820.4 887.1,1824.2 888.1,1828.0 889.2,1831.8 890.2,1835.5 891.2,1839.1 892.3,1842.6 893.3,1846.0 894.3,1849.2 895.4,1852.3 896.4,1855.2 897.4,1857.8 898.4,1860.3 899.5,1862.5 900.5,1864.4 901.0,1865.3 901.5,1866.1 902.6,1867.7 903.6,1869.3 904.6,1870.9 905.7,1872.5 906.7,1874.0 907.7,1875.5 908.7,1876.9 909.8,1878.3 910.8,1879.6 911.8,1880.8 912.9,1881.9 913.9,1883.0 914.9,1883.9 916.0,1884.7 917.0,1885.4 918.0,1886.0 919.1,1886.4 920.1,1886.7 921.1,1886.8 921.4,1886.8 922.1,1886.8 923.2,1886.6 924.2,1886.4 925.2,1886.1 926.3,1885.6 927.3,1885.1 928.3,1884.6 929.4,1883.9 930.4,1883.3 931.4,1882.5 932.5,1881.8 933.5,1881.0 934.5,1880.1 935.5,1879.3 936.6,1878.5 937.6,1877.6 938.6,1876.8 939.7,1876.0 940.7,1875.2 941.7,1874.4 941.8,1874.4 942.8,1873.7 943.8,1872.9 944.8,1872.0 945.8,1871.2 946.9,1870.3 947.9,1869.3 948.9,1868.4 950.0,1867.4 951.0,1866.5 952.0,1865.5 953.1,1864.5 954.1,1863.6 955.1,1862.6 956.2,1861.7 957.2,1860.8 958.2,1859.9 959.2,1859.1 960.3,1858.3 961.3,1857.6 962.1,1857.0 962.3,1856.8 963.4,1856.1 964.4,1855.4 965.4,1854.7 966.5,1853.9 967.5,1853.1 968.5,1852.4 969.5,1851.6 970.6,1850.9 971.6,1850.2 972.6,1849.5 973.7,1848.8 974.7,1848.2 975.7,1847.7 976.8,1847.2 977.8,1846.7 978.8,1846.4 979.9,1846.1 980.9,1845.9 981.9,1845.8 982.5,1845.8 982.9,1845.8 984.0,1845.8 985.0,1845.9 986.0,1846.0 987.1,1846.1 988.1,1846.3 989.1,1846.4 990.2,1846.6 991.2,1846.9 992.2,1847.1 993.2,1847.4 994.3,1847.7 995.3,1848.0 996.3,1848.3 997.4,1848.6 998.4,1849.0 999.4,1849.3 1000.5,1849.7 1001.5,1850.1 1002.5,1850.5 1002.8,1850.6 1003.6,1850.9 1004.6,1851.5 1005.6,1852.1 1006.6,1852.9 1007.7,1853.7 1008.7,1854.6 1009.7,1855.6 1010.8,1856.7 1011.8,1857.9 1012.8,1859.0 1013.9,1860.3 1014.9,1861.5 1015.9,1862.8 1016.9,1864.1 1018.0,1865.5 1019.0,1866.8 1020.0,1868.1 1021.1,1869.4 1022.1,1870.7 1023.1,1871.9 1023.2,1872.0 1024.2,1873.2 1025.2,1874.5 1026.2,1875.8 1027.3,1877.2 1028.3,1878.6 1029.3,1880.1 1030.3,1881.5 1031.4,1883.0 1032.4,1884.5 1033.4,1886.0 1034.5,1887.5 1035.5,1889.0 1036.5,1890.5 1037.6,1892.0 1038.6,1893.5 1039.6,1894.9 1040.6,1896.3 1041.7,1897.7 1042.7,1899.1 1043.5,1900.1 1043.7,1900.4 1044.8,1901.7 1045.8,1903.0 1046.8,1904.3 1047.9,1905.6 1048.9,1906.9 1049.9,1908.3 1051.0,1909.6 1052.0,1910.9 1053.0,1912.2 1054.0,1913.4 1055.1,1914.6 1056.1,1915.8 1057.1,1917.0 1058.2,1918.1 1059.2,1919.2 1060.2,1920.2 1061.3,1921.1 1062.3,1922.0 1063.3,1922.9 1063.9,1923.3 1064.4,1923.6 1065.4,1924.4 1066.4,1925.2 1067.4,1926.0 1068.5,1926.8 1069.5,1927.6 1070.5,1928.3 1071.6,1928.9 1072.6,1929.4 1073.6,1929.9 1074.7,1930.2 1075.7,1930.4 1076.6,1930.5 1076.7,1930.5 1077.7,1930.4 1078.8,1930.1 1079.8,1929.7 1080.8,1929.2 1081.9,1928.6 1082.9,1928.1 1083.9,1927.6 1084.2,1927.5 1085.0,1927.2 1086.0,1926.8 1087.0,1926.4 1088.1,1926.0 1089.1,1925.6 1090.1,1925.2 1091.1,1924.8 1092.2,1924.4 1093.2,1923.9 1094.2,1923.5 1095.3,1923.1 1096.3,1922.8 1097.3,1922.4 1098.4,1922.0 1099.4,1921.7 1100.4,1921.3 1101.4,1921.0 1102.5,1920.7 1103.5,1920.5 1104.5,1920.2 1104.6,1920.2 1105.6,1920.0 1106.6,1919.7 1107.6,1919.5 1108.7,1919.3 1109.7,1919.0 1110.7,1918.8 1111.8,1918.6 1112.8,1918.3 1113.8,1918.1 1114.8,1917.9 1115.9,1917.7 1116.9,1917.5 1117.9,1917.4 1119.0,1917.2 1120.0,1917.1 1121.0,1917.0 1122.1,1916.9 1123.1,1916.8 1124.1,1916.8 1125.0,1916.8 1125.1,1916.8 1126.2,1916.8 1127.2,1916.8 1128.2,1916.8 1129.3,1916.9 1130.3,1916.9 1131.3,1916.9 1132.4,1917.0 1133.4,1917.0 1134.4,1917.1 1135.5,1917.1 1136.5,1917.2 1137.5,1917.2 1138.5,1917.3 1139.6,1917.4 1140.6,1917.4 1141.6,1917.5 1142.7,1917.6 1143.7,1917.7 1144.7,1917.8 1145.3,1917.8 1145.8,1917.8 1146.8,1918.0 1147.8,1918.1 1148.8,1918.3 1149.9,1918.4 1150.9,1918.7 1151.9,1918.9 1153.0,1919.1 1154.0,1919.4 1155.0,1919.7 1156.1,1920.0 1157.1,1920.3 1158.1,1920.6 1159.2,1920.9 1160.2,1921.2 1161.2,1921.6 1162.2,1921.9 1163.3,1922.2 1164.3,1922.6 1165.3,1922.9 1165.7,1923.0 1166.4,1923.2 1167.4,1923.6 1168.4,1924.1 1169.5,1924.6 1170.5,1925.1 1171.5,1925.6 1172.5,1926.2 1173.6,1926.8 1174.6,1927.4 1175.6,1927.9 1176.7,1928.5 1177.7,1929.0 1178.7,1929.5 1179.8,1930.0 1180.8,1930.4 1181.8,1930.8 1182.9,1931.1 1183.9,1931.3 1184.9,1931.4 1185.9,1931.5 1186.0,1931.5 1187.0,1931.5 1188.0,1931.3 1189.0,1931.1 1190.1,1930.7 1191.1,1930.3 1192.1,1929.8 1193.2,1929.3 1194.2,1928.6 1195.2,1928.0 1196.2,1927.2 1197.3,1926.5 1198.3,1925.7 1199.3,1924.9 1200.4,1924.0 1201.4,1923.2 1202.4,1922.3 1203.5,1921.5 1204.5,1920.6 1205.5,1919.8 1206.4,1919.1 1206.6,1919.0 1207.6,1918.1 1208.6,1917.2 1209.6,1916.3 1210.7,1915.3 1211.7,1914.3 1212.7,1913.3 1213.8,1912.2 1214.8,1911.1 1215.8,1909.9 1216.9,1908.8 1217.9,1907.6 1218.9,1906.4 1220.0,1905.2 1221.0,1904.0 1222.0,1902.7 1223.0,1901.5 1224.1,1900.3 1225.1,1899.1 1226.1,1897.9 1226.7,1897.2 1227.2,1896.7 1228.2,1895.4 1229.2,1894.0 1230.3,1892.4 1231.3,1890.8 1232.3,1889.2 1233.3,1887.5 1234.4,1885.8 1235.4,1884.1 1236.4,1882.5 1237.5,1880.9 1238.5,1879.3 1239.5,1877.9 1240.6,1876.6 1241.6,1875.4 1242.6,1874.3 1243.7,1873.5 1244.7,1872.8 1245.7,1872.3 1246.7,1872.1 1247.1,1872.1 1247.8,1872.1 1248.8,1872.4 1249.8,1872.7 1250.9,1873.3 1251.9,1873.9 1252.9,1874.8 1254.0,1875.7 1255.0,1876.7 1256.0,1877.9 1257.0,1879.1 1258.1,1880.4 1259.1,1881.7 1260.1,1883.1 1261.2,1884.6 1262.2,1886.0 1263.2,1887.5 1264.3,1889.0 1265.3,1890.4 1266.3,1891.9 1267.4,1893.3 1267.4,1893.4 1268.4,1894.8 1269.4,1896.5 1270.4,1898.5 1271.5,1900.7 1272.5,1903.0 1273.5,1905.5 1274.6,1908.0 1275.6,1910.6 1276.6,1913.1 1277.7,1915.7 1278.7,1918.2 1279.7,1920.5 1280.7,1922.7 1281.8,1924.8 1282.8,1926.6 1283.8,1928.1 1284.9,1929.4 1285.9,1930.3 1286.9,1930.8 1287.8,1931.0 1288.0,1931.0 1289.0,1930.8 1290.0,1930.3 1291.1,1929.5 1292.1,1928.4 1293.1,1927.1 1294.1,1925.6 1295.2,1923.9 1296.2,1922.1 1297.2,1920.1 1298.3,1918.0 1299.3,1915.8 1300.3,1913.5 1301.4,1911.2 1302.4,1908.9 1303.4,1906.5 1304.4,1904.2 1305.5,1902.0 1306.5,1899.8 1307.5,1897.7 1308.2,1896.5 1308.6,1895.7 1309.6,1893.7 1310.6,1891.7 1311.7,1889.7 1312.7,1887.7 1313.7,1885.6 1314.8,1883.5 1315.8,1881.4 1316.8,1879.3 1317.8,1877.1 1318.9,1874.9 1319.9,1872.6 1320.9,1870.4 1322.0,1868.1 1323.0,1865.8 1324.0,1863.4 1325.1,1861.0 1326.1,1858.6 1327.1,1856.2 1328.1,1853.7 1328.5,1852.8 1329.2,1851.1 1330.2,1848.5 1331.2,1845.8 1332.3,1843.0 1333.3,1840.2 1334.3,1837.3 1335.4,1834.3 1336.4,1831.3 1337.4,1828.3 1338.5,1825.3 1339.5,1822.2 1340.5,1819.1 1341.5,1816.1 1342.6,1813.0 1343.6,1810.0 1344.6,1807.0 1345.7,1804.0 1346.7,1801.1 1347.7,1798.3 1348.8,1795.5 1348.9,1795.2 1349.8,1792.7 1350.8,1789.8 1351.9,1786.8 1352.9,1783.7 1353.9,1780.6 1354.9,1777.5 1356.0,1774.4 1357.0,1771.2 1358.0,1768.2 1359.1,1765.2 1360.1,1762.3 1361.1,1759.5 1362.2,1756.8 1363.2,1754.3 1364.2,1752.0 1365.2,1749.8 1366.3,1747.9 1367.3,1746.3 1368.3,1744.9 1369.2,1743.9 1369.4,1743.8 1370.4,1742.8 1371.4,1741.8 1372.5,1741.0 1373.5,1740.5 1374.3,1740.4 1374.5,1740.4 1375.6,1740.7 1376.6,1741.2 1377.6,1742.1 1378.6,1743.2 1379.7,1744.5 1380.7,1746.1 1381.7,1747.8 1382.8,1749.7 1383.8,1751.6 1384.8,1753.6 1385.9,1755.7 1386.9,1757.8 1387.9,1759.8 1388.9,1761.8 1389.6,1763.0 1390.0,1763.8 1391.0,1765.8 1392.0,1768.1 1393.1,1770.4 1394.1,1772.9 1395.1,1775.6 1396.2,1778.3 1397.2,1781.1 1398.2,1783.9 1399.3,1786.8 1400.3,1789.8 1401.3,1792.7 1402.3,1795.6 1403.4,1798.4 1404.4,1801.3 1405.4,1804.0 1406.5,1806.7 1407.5,1809.2 1408.5,1811.6 1409.6,1813.9 1409.9,1814.7 1410.6,1816.1 1411.6,1818.2 1412.6,1820.4 1413.7,1822.6 1414.7,1824.8 1415.7,1826.9 1416.8,1829.0 1417.8,1831.1 1418.8,1833.2 1419.9,1835.2 1420.9,1837.2 1421.9,1839.0 1423.0,1840.8 1424.0,1842.5 1425.0,1844.1 1426.0,1845.6 1427.1,1847.0 1428.1,1848.3 1429.1,1849.4 1430.2,1850.4 1430.3,1850.5 1431.2,1851.3 1432.2,1852.2 1433.3,1853.1 1434.3,1853.9 1435.3,1854.6 1436.3,1855.2 1437.4,1855.6 1438.4,1855.9 1438.9,1855.9 1439.4,1855.9 1440.5,1855.6 1441.5,1855.1 1442.5,1854.4 1443.6,1853.5 1444.6,1852.4 1445.6,1851.1 1446.7,1849.8 1447.7,1848.3 1448.7,1846.7 1449.7,1845.0 1450.6,1843.5 1450.8,1843.3 1451.8,1841.4 1452.8,1839.2 1453.9,1836.6 1454.9,1833.7 1455.9,1830.5 1457.0,1826.9 1458.0,1822.8 1459.0,1818.4 1460.0,1813.5 1461.1,1808.1 1462.1,1802.2 1463.1,1795.9 1464.2,1788.9 1465.2,1781.5 1466.2,1773.5 1467.3,1764.9 1468.3,1755.6 1469.3,1745.8 1470.4,1735.2 1471.0,1728.3 1471.4,1723.1 1472.4,1700.9 1473.4,1670.3 1473.7,1662.0 1474.5,1630.3 1475.5,1576.5 1476.0,1549.5 1476.5,1518.7 1477.6,1455.8 1477.9,1437.0 1478.6,1399.6 1479.6,1352.5 1479.6,1351.4 1480.7,1309.8 1481.0,1305.3 1481.7,1330.2 1482.4,1380.7 1482.7,1407.2 1483.6,1493.2 1483.7,1505.6 1484.8,1583.4 1485.0,1591.7 1485.8,1610.2 1486.8,1625.7 1487.8,1633.9 1487.9,1634.3 1488.9,1640.0 1489.9,1644.2 1491.0,1646.5 1491.4,1646.7 1492.0,1645.9 1493.0,1641.7 1494.1,1635.5 1494.3,1633.9 1495.1,1627.4 1496.1,1615.0 1497.1,1599.3 1497.6,1591.7 1498.2,1580.8 1499.2,1556.4 1500.2,1526.5 1500.4,1521.4 1501.3,1488.4 1502.3,1441.7 1502.4,1437.0 1503.3,1391.7 1504.1,1352.5 1504.4,1337.7 1505.4,1274.8 1505.8,1265.9 1506.4,1291.0 1507.5,1377.3 1507.5,1380.7 1508.5,1451.6 1509.2,1493.2 1509.5,1504.9 1510.5,1532.4 1511.6,1561.1 1511.7,1566.4 1512.6,1614.2 1512.6,1614.3 1513.6,1632.8 1514.7,1645.0 1515.7,1653.7 1516.7,1661.4 1516.8,1662.0 1517.8,1669.4 1518.8,1676.7 1519.8,1683.2 1520.8,1688.9 1521.9,1693.7 1522.4,1695.8 1522.9,1697.6 1523.9,1701.2 1525.0,1704.4 1526.0,1707.4 1527.0,1710.1 1528.1,1712.6 1529.1,1714.9 1530.1,1716.9 1531.2,1718.7 1532.1,1720.2 1532.2,1720.4 1533.2,1721.9 1534.2,1723.5 1535.3,1725.0 1536.3,1726.5 1537.3,1728.0 1538.4,1729.5 1539.4,1730.9 1540.4,1732.2 1541.5,1733.5 1542.5,1734.6 1543.5,1735.8 1544.5,1736.8 1545.6,1737.7 1546.6,1738.5 1547.6,1739.2 1548.7,1739.8 1549.7,1740.3 1550.7,1740.6 1551.8,1740.8 1552.4,1740.8 1552.8,1740.8 1553.8,1740.7 1554.9,1740.5 1555.9,1740.3 1556.9,1739.9 1557.9,1739.5 1559.0,1739.0 1560.0,1738.4 1561.0,1737.8 1562.1,1737.1 1563.1,1736.4 1564.1,1735.7 1565.2,1734.9 1566.2,1734.0 1567.2,1733.2 1568.2,1732.3 1569.3,1731.4 1570.3,1730.5 1571.3,1729.6 1572.4,1728.7 1572.8,1728.3 1573.4,1727.7 1574.4,1726.7 1575.5,1725.7 1576.5,1724.5 1577.5,1723.2 1578.6,1721.9 1579.6,1720.5 1580.6,1719.1 1581.6,1717.5 1582.7,1716.0 1583.7,1714.3 1584.7,1712.6 1585.8,1710.9 1586.8,1709.1 1587.8,1707.3 1588.9,1705.4 1589.9,1703.5 1590.9,1701.6 1591.9,1699.6 1593.0,1697.6 1593.1,1697.3 1594.0,1695.6 1595.0,1693.5 1596.1,1691.3 1597.1,1689.1 1598.1,1686.8 1599.2,1684.5 1600.2,1682.0 1601.2,1679.5 1602.3,1676.9 1603.3,1674.2 1604.3,1671.4 1605.3,1668.6 1606.4,1665.6 1607.4,1662.6 1608.4,1659.4 1609.5,1656.2 1610.5,1652.8 1611.5,1649.4 1612.6,1645.8 1613.5,1642.5 1613.6,1642.1 1614.6,1638.2 1615.6,1633.8 1616.7,1629.1 1617.7,1624.1 1618.7,1618.9 1619.8,1613.5 1620.8,1607.9 1621.8,1602.2 1622.9,1596.4 1623.7,1591.7 1623.9,1590.6 1624.9,1585.1 1626.0,1579.8 1627.0,1574.6 1628.0,1569.2 1629.0,1563.5 1630.1,1557.2 1631.1,1550.2 1632.1,1542.2 1633.2,1533.1 1633.8,1526.4 1634.2,1522.3 1635.2,1505.9 1636.3,1485.3 1637.2,1465.1 1637.3,1463.2 1638.3,1439.7 1639.4,1413.3 1640.0,1394.8 1640.4,1383.0 1641.4,1346.6 1642.0,1324.4 1642.4,1303.7 1643.5,1257.9 1643.7,1255.5 1644.5,1275.3 1645.5,1322.0 1645.6,1324.4 1646.6,1358.8 1647.6,1393.1 1648.2,1408.8 1648.6,1417.8 1649.7,1437.4 1650.7,1454.4 1651.7,1469.4 1652.7,1483.0 1653.8,1495.9 1654.2,1501.1 1654.8,1508.5 1655.8,1520.6 1656.9,1532.1 1657.9,1542.8 1658.9,1552.5 1660.0,1561.0 1660.3,1563.6 1661.0,1568.5 1662.0,1575.4 1663.1,1581.8 1664.1,1587.7 1665.1,1593.1 1666.1,1598.0 1667.2,1602.5 1667.3,1603.0 1668.2,1606.5 1669.2,1610.2 1670.3,1613.6 1671.3,1616.8 1672.3,1619.8 1673.4,1622.8 1674.4,1625.8 1674.6,1626.3 1675.4,1628.8 1676.4,1631.9 1677.5,1634.9 1678.5,1637.9 1679.5,1640.9 1680.6,1643.8 1681.6,1646.7 1682.6,1649.6 1683.7,1652.5 1684.7,1655.3 1685.7,1658.1 1686.8,1660.8 1687.8,1663.5 1688.8,1666.1 1689.8,1668.7 1690.9,1671.2 1691.9,1673.6 1692.9,1676.0 1694.0,1678.3 1694.9,1680.3 1695.0,1680.5 1696.0,1682.6 1697.1,1684.7 1698.1,1686.7 1699.1,1688.7 1700.1,1690.6 1701.2,1692.4 1702.2,1694.2 1703.2,1695.9 1704.3,1697.6 1705.3,1699.2" fill="none" stroke="#f00" stroke-width="4" stroke-linejoin="miter" stroke-linecap="round"/>
<rect x="773.5" y="1734.7" width="10.8" height="10.8" fill="#f00"/>
<rect x="793.9" y="1715.1" width="10.8" height="10.8" fill="#f00"/>
<rect x="814.2" y="1679.9" width="10.8" height="10.8" fill="#f00"/>
<rect x="834.6" y="1560.2" width="10.8" height="10.8" fill="#f00"/>
<rect x="854.9" y="1669.4" width="10.8" height="10.8" fill="#f00"/>
<rect x="875.3" y="1795.7" width="10.8" height="10.8" fill="#f00"/>
<rect x="895.6" y="1859.9" width="10.8" height="10.8" fill="#f00"/>
<rect x="916.0" y="1881.4" width="10.8" height="10.8" fill="#f00"/>
<rect x="936.4" y="1869.0" width="10.8" height="10.8" fill="#f00"/>
<rect x="956.7" y="1851.6" width="10.8" height="10.8" fill="#f00"/>
<rect x="977.1" y="1840.4" width="10.8" height="10.8" fill="#f00"/>
<rect x="997.4" y="1845.2" width="10.8" height="10.8" fill="#f00"/>
<rect x="1017.8" y="1866.6" width="10.8" height="10.8" fill="#f00"/>
<rect x="1038.1" y="1894.7" width="10.8" height="10.8" fill="#f00"/>
<rect x="1058.5" y="1917.9" width="10.8" height="10.8" fill="#f00"/>
<rect x="1078.8" y="1922.1" width="10.8" height="10.8" fill="#f00"/>
<rect x="1099.2" y="1914.8" width="10.8" height="10.8" fill="#f00"/>
<rect x="1119.6" y="1911.4" width="10.8" height="10.8" fill="#f00"/>
<rect x="1139.9" y="1912.4" width="10.8" height="10.8" fill="#f00"/>
<rect x="1160.3" y="1917.6" width="10.8" height="10.8" fill="#f00"/>
<rect x="1180.6" y="1926.1" width="10.8" height="10.8" fill="#f00"/>
<rect x="1201.0" y="1913.7" width="10.8" height="10.8" fill="#f00"/>
<rect x="1221.3" y="1891.8" width="10.8" height="10.8" fill="#f00"/>
<rect x="1241.7" y="1866.7" width="10.8" height="10.8" fill="#f00"/>
<rect x="1262.0" y="1888.0" width="10.8" height="10.8" fill="#f00"/>
<rect x="1282.4" y="1925.6" width="10.8" height="10.8" fill="#f00"/>
<rect x="1302.8" y="1891.1" width="10.8" height="10.8" fill="#f00"/>
<rect x="1323.1" y="1847.4" width="10.8" height="10.8" fill="#f00"/>
<rect x="1343.5" y="1789.8" width="10.8" height="10.8" fill="#f00"/>
<rect x="1363.8" y="1738.5" width="10.8" height="10.8" fill="#f00"/>
<rect x="1384.2" y="1757.6" width="10.8" height="10.8" fill="#f00"/>
<rect x="1404.5" y="1809.3" width="10.8" height="10.8" fill="#f00"/>
<rect x="1424.9" y="1845.1" width="10.8" height="10.8" fill="#f00"/>
<rect x="1445.2" y="1838.1" width="10.8" height="10.8" fill="#f00"/>
<rect x="1465.6" y="1722.9" width="10.8" height="10.8" fill="#f00"/>
<rect x="1486.0" y="1641.3" width="10.8" height="10.8" fill="#f00"/>
<rect x="1506.3" y="1561.0" width="10.8" height="10.8" fill="#f00"/>
<rect x="1526.7" y="1714.8" width="10.8" height="10.8" fill="#f00"/>
<rect x="1547.0" y="1735.4" width="10.8" height="10.8" fill="#f00"/>
<rect x="1567.4" y="1722.9" width="10.8" height="10.8" fill="#f00"/>
<rect x="1587.7" y="1691.9" width="10.8" height="10.8" fill="#f00"/>
<rect x="1608.1" y="1637.1" width="10.8" height="10.8" fill="#f00"/>
<rect x="1628.4" y="1521.0" width="10.8" height="10.8" fill="#f00"/>
<rect x="1648.8" y="1495.7" width="10.8" height="10.8" fill="#f00"/>
<rect x="1669.2" y="1620.9" width="10.8" height="10.8" fill="#f00"/>
<rect x="1689.5" y="1674.9" width="10.8" height="10.8" fill="#f00"/>
</svg></body></html>
